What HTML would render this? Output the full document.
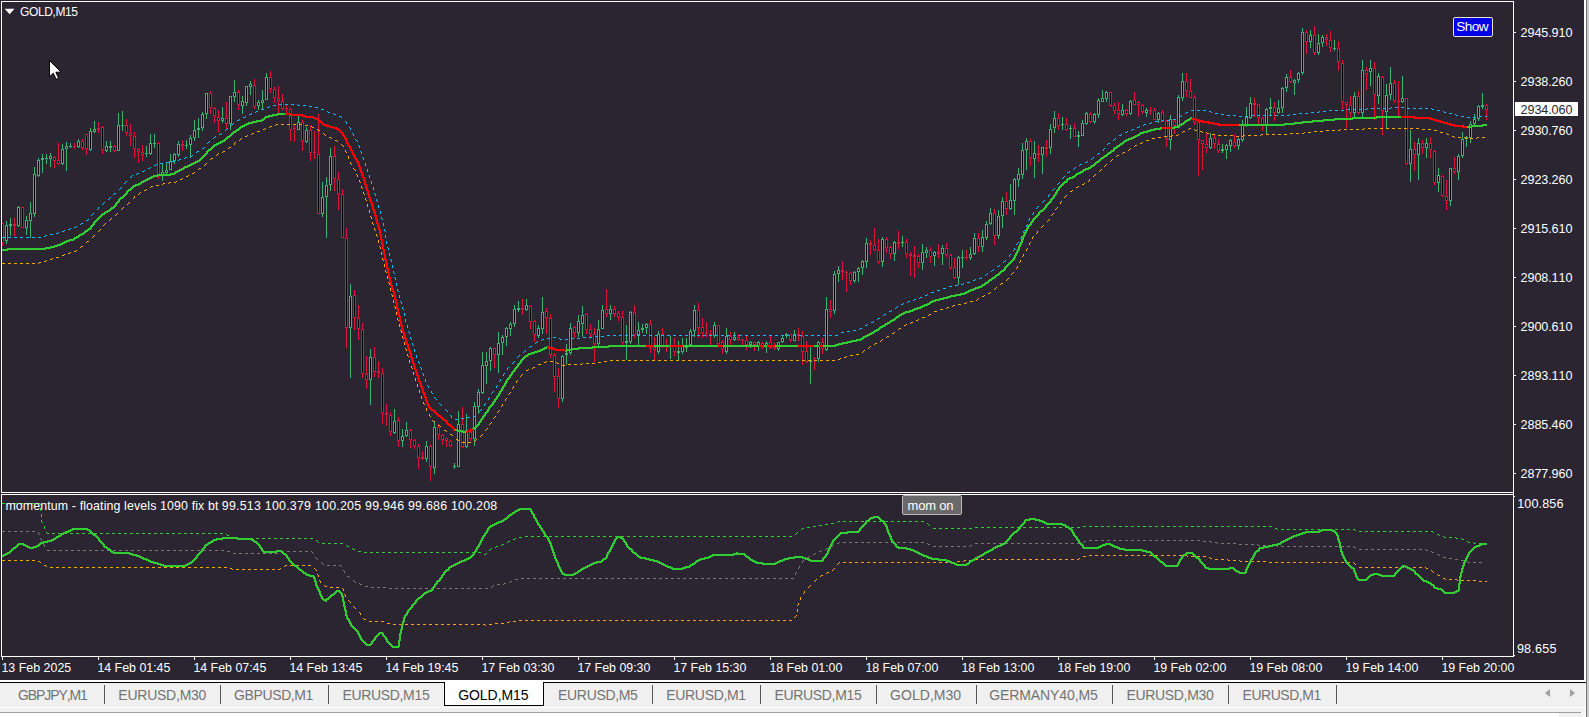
<!DOCTYPE html><html><head><meta charset="utf-8"><title>GOLD,M15</title><style>
html,body{margin:0;padding:0}
body{width:1589px;height:717px;overflow:hidden;background:#2b2531;position:relative;font-family:"Liberation Sans",sans-serif;color:#fff}
.t{position:absolute;white-space:pre;line-height:1;font-kerning:none}
.ax{font-size:12.6px}
.tm{font-size:12.4px;top:662px}
.tab{font-size:14px;color:#737373;top:688px}
.sep{position:absolute;top:685px;width:1px;height:19px;background:#555}

</style></head><body>
<svg width="1589" height="717" viewBox="0 0 1589 717" style="position:absolute;left:0;top:0">
<g shape-rendering="crispEdges">
<path fill="#3cb371" d="M6 221h1v23h-1zM5 225h3v16h-3zM10 218h1v18h-1zM9 224h3v2h-3zM18 206h1v21h-1zM17 207h3v19h-3zM26 216h1v19h-1zM25 220h3v8h-3zM30 202h1v36h-1zM29 213h3v8h-3zM34 167h1v50h-1zM33 174h3v40h-3zM38 158h1v19h-1zM37 160h3v16h-3zM42 154h1v19h-1zM41 158h3v2h-3zM46 154h1v10h-1zM45 158h3v1h-3zM50 153h1v14h-1zM49 156h3v3h-3zM62 144h1v21h-1zM61 149h3v15h-3zM66 142h1v29h-1zM65 146h3v3h-3zM70 143h1v5h-1zM69 146h3v1h-3zM78 139h1v9h-1zM77 141h3v6h-3zM90 128h1v23h-1zM89 131h3v19h-3zM94 121h1v12h-1zM93 129h3v3h-3zM106 141h1v11h-1zM105 146h3v5h-3zM110 141h1v11h-1zM109 146h3v2h-3zM118 113h1v38h-1zM117 125h3v26h-3zM122 111h1v20h-1zM121 125h3v1h-3zM146 146h1v11h-1zM145 153h3v1h-3zM150 134h1v21h-1zM149 143h3v11h-3zM154 134h1v14h-1zM153 143h3v1h-3zM162 164h1v17h-1zM161 172h3v3h-3zM166 163h1v13h-1zM165 170h3v3h-3zM170 154h1v16h-1zM169 161h3v9h-3zM174 153h1v11h-1zM173 154h3v7h-3zM178 141h1v16h-1zM177 144h3v11h-3zM186 140h1v9h-1zM185 145h3v1h-3zM190 135h1v23h-1zM189 138h3v7h-3zM194 120h1v21h-1zM193 130h3v8h-3zM198 118h1v20h-1zM197 128h3v2h-3zM202 112h1v19h-1zM201 114h3v14h-3zM206 93h1v26h-1zM205 93h3v21h-3zM222 107h1v16h-1zM221 118h3v3h-3zM230 96h1v34h-1zM229 96h3v28h-3zM234 80h1v22h-1zM233 92h3v5h-3zM242 96h1v18h-1zM241 101h3v5h-3zM246 86h1v20h-1zM245 86h3v17h-3zM250 81h1v14h-1zM249 84h3v3h-3zM258 100h1v10h-1zM257 102h3v4h-3zM262 90h1v19h-1zM261 100h3v3h-3zM266 73h1v27h-1zM265 77h3v23h-3zM298 116h1v14h-1zM297 122h3v8h-3zM306 127h1v16h-1zM305 130h3v12h-3zM322 182h1v35h-1zM321 197h3v17h-3zM326 177h1v61h-1zM325 185h3v12h-3zM330 148h1v43h-1zM329 156h3v29h-3zM350 284h1v94h-1zM349 296h3v32h-3zM370 349h1v56h-1zM369 357h3v23h-3zM394 409h1v25h-1zM393 421h3v12h-3zM402 429h1v18h-1zM401 436h3v5h-3zM406 422h1v15h-1zM405 430h3v6h-3zM426 441h1v21h-1zM425 446h3v13h-3zM434 421h1v53h-1zM433 427h3v41h-3zM454 463h1v6h-1zM453 466h3v1h-3zM458 411h1v56h-1zM457 424h3v43h-3zM466 414h1v34h-1zM465 430h3v17h-3zM474 402h1v44h-1zM473 406h3v33h-3zM478 389h1v25h-1zM477 392h3v15h-3zM482 352h1v42h-1zM481 365h3v28h-3zM486 352h1v32h-1zM485 361h3v5h-3zM490 347h1v24h-1zM489 348h3v13h-3zM498 332h1v41h-1zM497 343h3v12h-3zM502 335h1v20h-1zM501 337h3v6h-3zM506 327h1v19h-1zM505 328h3v9h-3zM510 322h1v14h-1zM509 324h3v5h-3zM514 305h1v22h-1zM513 309h3v15h-3zM518 301h1v11h-1zM517 308h3v2h-3zM526 299h1v12h-1zM525 305h3v5h-3zM538 325h1v13h-1zM537 328h3v8h-3zM542 297h1v37h-1zM541 312h3v17h-3zM562 355h1v47h-1zM561 356h3v43h-3zM566 344h1v21h-1zM565 353h3v2h-3zM570 323h1v32h-1zM569 328h3v25h-3zM578 315h1v22h-1zM577 321h3v12h-3zM582 306h1v31h-1zM581 315h3v9h-3zM598 320h1v26h-1zM597 329h3v15h-3zM602 305h1v24h-1zM601 310h3v19h-3zM610 305h1v15h-1zM609 309h3v5h-3zM626 325h1v35h-1zM625 341h3v2h-3zM630 311h1v33h-1zM629 312h3v30h-3zM638 322h1v23h-1zM637 330h3v5h-3zM642 324h1v9h-1zM641 328h3v2h-3zM646 323h1v11h-1zM645 324h3v4h-3zM658 331h1v23h-1zM657 334h3v18h-3zM670 336h1v23h-1zM669 346h3v1h-3zM678 341h1v19h-1zM677 351h3v2h-3zM682 338h1v16h-1zM681 346h3v6h-3zM686 338h1v14h-1zM685 345h3v3h-3zM690 329h1v16h-1zM689 331h3v14h-3zM694 305h1v32h-1zM693 310h3v21h-3zM714 322h1v16h-1zM713 325h3v11h-3zM726 328h1v26h-1zM725 336h3v16h-3zM734 332h1v9h-1zM733 337h3v3h-3zM750 341h1v7h-1zM749 342h3v3h-3zM758 341h1v10h-1zM757 342h3v4h-3zM766 341h1v12h-1zM765 343h3v3h-3zM778 342h1v9h-1zM777 342h3v7h-3zM782 336h1v7h-1zM781 338h3v4h-3zM786 333h1v5h-1zM785 334h3v2h-3zM794 330h1v11h-1zM793 334h3v7h-3zM810 347h1v37h-1zM809 360h3v2h-3zM818 341h1v21h-1zM817 342h3v17h-3zM826 297h1v54h-1zM825 309h3v41h-3zM834 271h1v43h-1zM833 274h3v37h-3zM838 266h1v16h-1zM837 270h3v4h-3zM854 271h1v12h-1zM853 272h3v9h-3zM858 267h1v15h-1zM857 268h3v4h-3zM862 260h1v15h-1zM861 261h3v7h-3zM866 238h1v30h-1zM865 243h3v19h-3zM882 237h1v30h-1zM881 239h3v23h-3zM894 241h1v20h-1zM893 242h3v12h-3zM902 236h1v11h-1zM901 242h3v1h-3zM922 244h1v26h-1zM921 252h3v11h-3zM926 247h1v11h-1zM925 250h3v3h-3zM934 251h1v15h-1zM933 252h3v4h-3zM942 245h1v20h-1zM941 248h3v6h-3zM958 256h1v29h-1zM957 257h3v21h-3zM962 250h1v18h-1zM961 257h3v1h-3zM970 247h1v13h-1zM969 254h3v4h-3zM974 233h1v22h-1zM973 238h3v16h-3zM982 230h1v22h-1zM981 237h3v10h-3zM986 221h1v19h-1zM985 224h3v14h-3zM990 208h1v17h-1zM989 213h3v11h-3zM998 210h1v29h-1zM997 216h3v20h-3zM1002 197h1v31h-1zM1001 201h3v15h-3zM1010 184h1v26h-1zM1009 200h3v9h-3zM1014 178h1v37h-1zM1013 179h3v22h-3zM1018 168h1v19h-1zM1017 174h3v6h-3zM1022 143h1v36h-1zM1021 150h3v25h-3zM1026 138h1v32h-1zM1025 141h3v9h-3zM1034 141h1v37h-1zM1033 153h3v6h-3zM1042 147h1v27h-1zM1041 147h3v8h-3zM1050 124h1v30h-1zM1049 129h3v19h-3zM1054 111h1v22h-1zM1053 118h3v10h-3zM1062 117h1v13h-1zM1061 124h3v1h-3zM1070 125h1v14h-1zM1069 128h3v1h-3zM1078 131h1v16h-1zM1077 135h3v2h-3zM1082 120h1v16h-1zM1081 123h3v13h-3zM1086 112h1v13h-1zM1085 113h3v11h-3zM1094 113h1v11h-1zM1093 114h3v8h-3zM1098 98h1v20h-1zM1097 100h3v15h-3zM1102 90h1v12h-1zM1101 98h3v4h-3zM1106 91h1v11h-1zM1105 92h3v7h-3zM1122 104h1v12h-1zM1121 110h3v5h-3zM1130 100h1v15h-1zM1129 101h3v13h-3zM1146 108h1v9h-1zM1145 110h3v3h-3zM1158 112h1v11h-1zM1157 113h3v7h-3zM1170 115h1v35h-1zM1169 119h3v21h-3zM1178 95h1v33h-1zM1177 97h3v31h-3zM1182 73h1v28h-1zM1181 81h3v17h-3zM1210 133h1v16h-1zM1209 138h3v10h-3zM1222 144h1v9h-1zM1221 149h3v2h-3zM1226 144h1v15h-1zM1225 145h3v5h-3zM1230 139h1v13h-1zM1229 140h3v6h-3zM1238 138h1v12h-1zM1237 139h3v7h-3zM1242 120h1v22h-1zM1241 125h3v15h-3zM1246 107h1v20h-1zM1245 117h3v8h-3zM1250 97h1v22h-1zM1249 103h3v15h-3zM1266 108h1v26h-1zM1265 109h3v16h-3zM1270 98h1v17h-1zM1269 107h3v2h-3zM1278 100h1v14h-1zM1277 108h3v5h-3zM1282 87h1v26h-1zM1281 88h3v20h-3zM1286 74h1v18h-1zM1285 77h3v11h-3zM1294 79h1v16h-1zM1293 80h3v3h-3zM1298 72h1v11h-1zM1297 73h3v7h-3zM1302 28h1v47h-1zM1301 32h3v41h-3zM1310 30h1v18h-1zM1309 35h3v7h-3zM1318 34h1v21h-1zM1317 43h3v10h-3zM1322 35h1v12h-1zM1321 37h3v6h-3zM1334 40h1v11h-1zM1333 48h3v1h-3zM1354 92h1v25h-1zM1353 96h3v17h-3zM1362 60h1v58h-1zM1361 70h3v43h-3zM1370 60h1v26h-1zM1369 68h3v4h-3zM1378 73h1v31h-1zM1377 76h3v20h-3zM1386 84h1v45h-1zM1385 95h3v17h-3zM1390 67h1v33h-1zM1389 83h3v12h-3zM1402 76h1v27h-1zM1401 98h3v4h-3zM1410 130h1v52h-1zM1409 149h3v15h-3zM1418 138h1v42h-1zM1417 143h3v12h-3zM1426 138h1v20h-1zM1425 143h3v5h-3zM1438 168h1v24h-1zM1437 175h3v8h-3zM1450 168h1v38h-1zM1449 168h3v33h-3zM1458 154h1v26h-1zM1457 156h3v16h-3zM1462 132h1v26h-1zM1461 139h3v17h-3zM1466 136h1v11h-1zM1465 137h3v2h-3zM1470 121h1v22h-1zM1469 124h3v14h-3zM1474 114h1v12h-1zM1473 119h3v5h-3zM1478 105h1v16h-1zM1477 106h3v13h-3zM1482 93h1v16h-1zM1481 105h3v2h-3z"/>
<path fill="#dc143c" d="M2 223h1v23h-1zM1 223h3v20h-3zM14 218h1v18h-1zM13 224h3v2h-3zM22 207h1v21h-1zM21 207h3v21h-3zM54 156h1v12h-1zM53 157h3v4h-3zM58 143h1v22h-1zM57 160h3v4h-3zM74 143h1v6h-1zM73 146h3v1h-3zM82 139h1v11h-1zM81 141h3v7h-3zM86 134h1v21h-1zM85 134h3v15h-3zM98 122h1v11h-1zM97 128h3v2h-3zM102 126h1v28h-1zM101 127h3v23h-3zM114 145h1v7h-1zM113 146h3v5h-3zM126 119h1v17h-1zM125 125h3v8h-3zM130 124h1v22h-1zM129 133h3v3h-3zM134 132h1v26h-1zM133 136h3v13h-3zM138 148h1v15h-1zM137 149h3v3h-3zM142 145h1v16h-1zM141 152h3v3h-3zM158 142h1v37h-1zM157 143h3v32h-3zM182 140h1v11h-1zM181 144h3v2h-3zM210 91h1v23h-1zM209 93h3v15h-3zM214 107h1v16h-1zM213 108h3v8h-3zM218 110h1v22h-1zM217 117h3v4h-3zM226 102h1v28h-1zM225 118h3v6h-3zM238 90h1v20h-1zM237 92h3v13h-3zM254 79h1v30h-1zM253 85h3v22h-3zM270 71h1v22h-1zM269 77h3v12h-3zM274 87h1v16h-1zM273 89h3v9h-3zM278 86h1v27h-1zM277 98h3v3h-3zM282 94h1v16h-1zM281 101h3v8h-3zM286 105h1v9h-1zM285 108h3v1h-3zM290 108h1v33h-1zM289 109h3v21h-3zM294 126h1v16h-1zM293 128h3v1h-3zM302 120h1v31h-1zM301 122h3v19h-3zM310 125h1v36h-1zM309 130h3v23h-3zM314 131h1v28h-1zM313 152h3v1h-3zM318 114h1v100h-1zM317 154h3v60h-3zM334 146h1v45h-1zM333 156h3v23h-3zM338 172h1v38h-1zM337 179h3v15h-3zM342 189h1v49h-1zM341 194h3v44h-3zM346 228h1v120h-1zM345 238h3v90h-3zM354 290h1v40h-1zM353 295h3v23h-3zM358 305h1v35h-1zM357 318h3v11h-3zM362 323h1v55h-1zM361 329h3v45h-3zM366 356h1v33h-1zM365 374h3v6h-3zM374 347h1v30h-1zM373 357h3v15h-3zM378 361h1v17h-1zM377 371h3v2h-3zM382 368h1v56h-1zM381 373h3v40h-3zM386 404h1v22h-1zM385 413h3v2h-3zM390 412h1v24h-1zM389 415h3v17h-3zM398 417h1v30h-1zM397 420h3v21h-3zM410 429h1v19h-1zM409 430h3v10h-3zM414 439h1v10h-1zM413 440h3v6h-3zM418 444h1v25h-1zM417 446h3v12h-3zM422 451h1v9h-1zM421 457h3v2h-3zM430 444h1v37h-1zM429 446h3v21h-3zM438 424h1v16h-1zM437 427h3v8h-3zM442 434h1v11h-1zM441 435h3v5h-3zM446 438h1v9h-1zM445 438h3v3h-3zM450 440h1v7h-1zM449 441h3v5h-3zM462 407h1v41h-1zM461 424h3v23h-3zM470 428h1v13h-1zM469 432h3v7h-3zM494 348h1v20h-1zM493 348h3v7h-3zM522 299h1v16h-1zM521 308h3v2h-3zM530 305h1v24h-1zM529 306h3v16h-3zM534 320h1v22h-1zM533 321h3v14h-3zM546 308h1v26h-1zM545 311h3v7h-3zM550 314h1v44h-1zM549 318h3v37h-3zM554 353h1v39h-1zM553 355h3v22h-3zM558 368h1v40h-1zM557 376h3v23h-3zM574 326h1v12h-1zM573 327h3v6h-3zM586 313h1v21h-1zM585 314h3v16h-3zM590 324h1v13h-1zM589 329h3v5h-3zM594 328h1v34h-1zM593 334h3v10h-3zM606 289h1v28h-1zM605 309h3v5h-3zM614 306h1v11h-1zM613 309h3v5h-3zM618 311h1v10h-1zM617 313h3v4h-3zM622 311h1v34h-1zM621 317h3v26h-3zM634 305h1v33h-1zM633 312h3v23h-3zM650 320h1v33h-1zM649 324h3v24h-3zM654 337h1v23h-1zM653 347h3v3h-3zM662 328h1v20h-1zM661 334h3v12h-3zM666 339h1v13h-1zM665 345h3v2h-3zM674 338h1v18h-1zM673 346h3v6h-3zM698 303h1v35h-1zM697 310h3v18h-3zM702 318h1v20h-1zM701 327h3v6h-3zM706 322h1v15h-1zM705 333h3v1h-3zM710 330h1v15h-1zM709 334h3v1h-3zM718 325h1v20h-1zM717 325h3v19h-3zM722 340h1v14h-1zM721 342h3v7h-3zM730 332h1v13h-1zM729 336h3v4h-3zM738 334h1v7h-1zM737 337h3v3h-3zM742 339h1v6h-1zM741 339h3v1h-3zM746 336h1v14h-1zM745 340h3v5h-3zM754 342h1v9h-1zM753 342h3v3h-3zM762 342h1v7h-1zM761 343h3v5h-3zM770 335h1v14h-1zM769 342h3v6h-3zM774 343h1v7h-1zM773 346h3v2h-3zM790 334h1v8h-1zM789 334h3v6h-3zM798 328h1v13h-1zM797 334h3v2h-3zM802 331h1v34h-1zM801 336h3v16h-3zM806 341h1v22h-1zM805 351h3v11h-3zM814 357h1v13h-1zM813 358h3v1h-3zM822 338h1v16h-1zM821 342h3v7h-3zM830 300h1v18h-1zM829 309h3v3h-3zM842 261h1v19h-1zM841 270h3v2h-3zM846 271h1v21h-1zM845 272h3v1h-3zM850 272h1v13h-1zM849 273h3v8h-3zM870 240h1v15h-1zM869 243h3v2h-3zM874 228h1v23h-1zM873 245h3v5h-3zM878 239h1v25h-1zM877 250h3v12h-3zM886 237h1v16h-1zM885 239h3v9h-3zM890 246h1v13h-1zM889 247h3v7h-3zM898 231h1v18h-1zM897 242h3v2h-3zM906 239h1v19h-1zM905 242h3v12h-3zM910 252h1v24h-1zM909 254h3v2h-3zM914 246h1v32h-1zM913 255h3v2h-3zM918 254h1v14h-1zM917 256h3v7h-3zM930 247h1v16h-1zM929 250h3v7h-3zM938 244h1v14h-1zM937 252h3v2h-3zM946 243h1v14h-1zM945 248h3v7h-3zM950 254h1v16h-1zM949 255h3v13h-3zM954 258h1v21h-1zM953 267h3v11h-3zM966 250h1v10h-1zM965 257h3v1h-3zM978 233h1v19h-1zM977 238h3v9h-3zM994 209h1v36h-1zM993 213h3v23h-3zM1006 192h1v23h-1zM1005 201h3v8h-3zM1030 139h1v27h-1zM1029 141h3v17h-3zM1038 145h1v17h-1zM1037 153h3v2h-3zM1046 140h1v17h-1zM1045 147h3v2h-3zM1058 113h1v17h-1zM1057 118h3v8h-3zM1066 118h1v13h-1zM1065 124h3v6h-3zM1074 123h1v14h-1zM1073 128h3v9h-3zM1090 112h1v11h-1zM1089 114h3v8h-3zM1110 92h1v15h-1zM1109 92h3v14h-3zM1114 103h1v11h-1zM1113 105h3v6h-3zM1118 102h1v18h-1zM1117 110h3v4h-3zM1126 109h1v7h-1zM1125 110h3v4h-3zM1134 92h1v13h-1zM1133 100h3v5h-3zM1138 101h1v16h-1zM1137 102h3v3h-3zM1142 104h1v10h-1zM1141 105h3v7h-3zM1150 107h1v8h-1zM1149 110h3v1h-3zM1154 108h1v12h-1zM1153 110h3v10h-3zM1162 110h1v12h-1zM1161 112h3v9h-3zM1166 120h1v27h-1zM1165 121h3v18h-3zM1174 119h1v15h-1zM1173 121h3v5h-3zM1186 73h1v24h-1zM1185 81h3v10h-3zM1190 79h1v19h-1zM1189 91h3v7h-3zM1194 95h1v30h-1zM1193 97h3v25h-3zM1198 122h1v54h-1zM1197 122h3v18h-3zM1202 140h1v30h-1zM1201 140h3v4h-3zM1206 133h1v20h-1zM1205 144h3v4h-3zM1214 135h1v14h-1zM1213 138h3v6h-3zM1218 139h1v14h-1zM1217 144h3v7h-3zM1234 134h1v14h-1zM1233 142h3v4h-3zM1254 98h1v19h-1zM1253 103h3v2h-3zM1258 104h1v20h-1zM1257 104h3v14h-3zM1262 117h1v14h-1zM1261 118h3v7h-3zM1274 102h1v19h-1zM1273 107h3v6h-3zM1290 70h1v13h-1zM1289 77h3v5h-3zM1306 30h1v24h-1zM1305 32h3v10h-3zM1314 26h1v29h-1zM1313 35h3v18h-3zM1326 34h1v12h-1zM1325 37h3v3h-3zM1330 31h1v21h-1zM1329 40h3v8h-3zM1338 41h1v30h-1zM1337 48h3v14h-3zM1342 60h1v49h-1zM1341 63h3v39h-3zM1346 102h1v26h-1zM1345 102h3v3h-3zM1350 96h1v22h-1zM1349 105h3v8h-3zM1358 91h1v23h-1zM1357 96h3v17h-3zM1366 67h1v23h-1zM1365 70h3v4h-3zM1374 62h1v58h-1zM1373 68h3v27h-3zM1382 76h1v59h-1zM1381 77h3v34h-3zM1394 80h1v23h-1zM1393 83h3v18h-3zM1398 81h1v35h-1zM1397 101h3v1h-3zM1406 98h1v67h-1zM1405 98h3v66h-3zM1414 142h1v29h-1zM1413 149h3v6h-3zM1422 140h1v14h-1zM1421 143h3v5h-3zM1430 137h1v21h-1zM1429 143h3v7h-3zM1434 150h1v35h-1zM1433 151h3v32h-3zM1442 175h1v22h-1zM1441 176h3v20h-3zM1446 180h1v30h-1zM1445 196h3v5h-3zM1454 157h1v17h-1zM1453 168h3v4h-3zM1486 104h1v16h-1zM1485 105h3v5h-3z"/>
<path fill="#000" d="M2 224h1v18h-1zM6 226h1v14h-1zM18 208h1v17h-1zM22 208h1v19h-1zM26 221h1v6h-1zM30 214h1v6h-1zM34 175h1v38h-1zM38 161h1v14h-1zM50 157h1v1h-1zM54 158h1v2h-1zM58 161h1v2h-1zM62 150h1v13h-1zM66 147h1v1h-1zM78 142h1v4h-1zM82 142h1v5h-1zM86 135h1v13h-1zM90 132h1v17h-1zM94 130h1v1h-1zM102 128h1v21h-1zM106 147h1v3h-1zM114 147h1v3h-1zM118 126h1v24h-1zM126 126h1v6h-1zM130 134h1v1h-1zM134 137h1v11h-1zM138 150h1v1h-1zM142 153h1v1h-1zM150 144h1v9h-1zM158 144h1v30h-1zM162 173h1v1h-1zM166 171h1v1h-1zM170 162h1v7h-1zM174 155h1v5h-1zM178 145h1v9h-1zM190 139h1v5h-1zM194 131h1v6h-1zM202 115h1v12h-1zM206 94h1v19h-1zM210 94h1v13h-1zM214 109h1v6h-1zM218 118h1v2h-1zM222 119h1v1h-1zM226 119h1v4h-1zM230 97h1v26h-1zM234 93h1v3h-1zM238 93h1v11h-1zM242 102h1v3h-1zM246 87h1v15h-1zM250 85h1v1h-1zM254 86h1v20h-1zM258 103h1v2h-1zM262 101h1v1h-1zM266 78h1v21h-1zM270 78h1v10h-1zM274 90h1v7h-1zM278 99h1v1h-1zM282 102h1v6h-1zM290 110h1v19h-1zM298 123h1v6h-1zM302 123h1v17h-1zM306 131h1v10h-1zM310 131h1v21h-1zM318 155h1v58h-1zM322 198h1v15h-1zM326 186h1v10h-1zM330 157h1v27h-1zM334 157h1v21h-1zM338 180h1v13h-1zM342 195h1v42h-1zM346 239h1v88h-1zM350 297h1v30h-1zM354 296h1v21h-1zM358 319h1v9h-1zM362 330h1v43h-1zM366 375h1v4h-1zM370 358h1v21h-1zM374 358h1v13h-1zM382 374h1v38h-1zM390 416h1v15h-1zM394 422h1v10h-1zM398 421h1v19h-1zM402 437h1v3h-1zM406 431h1v4h-1zM410 431h1v8h-1zM414 441h1v4h-1zM418 447h1v10h-1zM426 447h1v11h-1zM430 447h1v19h-1zM434 428h1v39h-1zM438 428h1v6h-1zM442 436h1v3h-1zM446 439h1v1h-1zM450 442h1v3h-1zM458 425h1v41h-1zM462 425h1v21h-1zM466 431h1v15h-1zM470 433h1v5h-1zM474 407h1v31h-1zM478 393h1v13h-1zM482 366h1v26h-1zM486 362h1v3h-1zM490 349h1v11h-1zM494 349h1v5h-1zM498 344h1v10h-1zM502 338h1v4h-1zM506 329h1v7h-1zM510 325h1v3h-1zM514 310h1v13h-1zM526 306h1v3h-1zM530 307h1v14h-1zM534 322h1v12h-1zM538 329h1v6h-1zM542 313h1v15h-1zM546 312h1v5h-1zM550 319h1v35h-1zM554 356h1v20h-1zM558 377h1v21h-1zM562 357h1v41h-1zM570 329h1v23h-1zM574 328h1v4h-1zM578 322h1v10h-1zM582 316h1v7h-1zM586 315h1v14h-1zM590 330h1v3h-1zM594 335h1v8h-1zM598 330h1v13h-1zM602 311h1v17h-1zM606 310h1v3h-1zM610 310h1v3h-1zM614 310h1v3h-1zM618 314h1v2h-1zM622 318h1v24h-1zM630 313h1v28h-1zM634 313h1v21h-1zM638 331h1v3h-1zM646 325h1v2h-1zM650 325h1v22h-1zM654 348h1v1h-1zM658 335h1v16h-1zM662 335h1v10h-1zM674 347h1v4h-1zM682 347h1v4h-1zM686 346h1v1h-1zM690 332h1v12h-1zM694 311h1v19h-1zM698 311h1v16h-1zM702 328h1v4h-1zM714 326h1v9h-1zM718 326h1v17h-1zM722 343h1v5h-1zM726 337h1v14h-1zM730 337h1v2h-1zM734 338h1v1h-1zM738 338h1v1h-1zM746 341h1v3h-1zM750 343h1v1h-1zM754 343h1v1h-1zM758 343h1v2h-1zM762 344h1v3h-1zM766 344h1v1h-1zM770 343h1v4h-1zM778 343h1v5h-1zM782 339h1v2h-1zM790 335h1v4h-1zM794 335h1v5h-1zM802 337h1v14h-1zM806 352h1v9h-1zM818 343h1v15h-1zM822 343h1v5h-1zM826 310h1v39h-1zM830 310h1v1h-1zM834 275h1v35h-1zM838 271h1v2h-1zM850 274h1v6h-1zM854 273h1v7h-1zM858 269h1v2h-1zM862 262h1v5h-1zM866 244h1v17h-1zM874 246h1v3h-1zM878 251h1v10h-1zM882 240h1v21h-1zM886 240h1v7h-1zM890 248h1v5h-1zM894 243h1v10h-1zM906 243h1v10h-1zM918 257h1v5h-1zM922 253h1v9h-1zM926 251h1v1h-1zM930 251h1v5h-1zM934 253h1v2h-1zM942 249h1v4h-1zM946 249h1v5h-1zM950 256h1v11h-1zM954 268h1v9h-1zM958 258h1v19h-1zM970 255h1v2h-1zM974 239h1v14h-1zM978 239h1v7h-1zM982 238h1v8h-1zM986 225h1v12h-1zM990 214h1v9h-1zM994 214h1v21h-1zM998 217h1v18h-1zM1002 202h1v13h-1zM1006 202h1v6h-1zM1010 201h1v7h-1zM1014 180h1v20h-1zM1018 175h1v4h-1zM1022 151h1v23h-1zM1026 142h1v7h-1zM1030 142h1v15h-1zM1034 154h1v4h-1zM1042 148h1v6h-1zM1050 130h1v17h-1zM1054 119h1v8h-1zM1058 119h1v6h-1zM1066 125h1v4h-1zM1074 129h1v7h-1zM1082 124h1v11h-1zM1086 114h1v9h-1zM1090 115h1v6h-1zM1094 115h1v6h-1zM1098 101h1v13h-1zM1102 99h1v2h-1zM1106 93h1v5h-1zM1110 93h1v12h-1zM1114 106h1v4h-1zM1118 111h1v2h-1zM1122 111h1v3h-1zM1126 111h1v2h-1zM1130 102h1v11h-1zM1134 101h1v3h-1zM1138 103h1v1h-1zM1142 106h1v5h-1zM1146 111h1v1h-1zM1154 111h1v8h-1zM1158 114h1v5h-1zM1162 113h1v7h-1zM1166 122h1v16h-1zM1170 120h1v19h-1zM1174 122h1v3h-1zM1178 98h1v29h-1zM1182 82h1v15h-1zM1186 82h1v8h-1zM1190 92h1v5h-1zM1194 98h1v23h-1zM1198 123h1v16h-1zM1202 141h1v2h-1zM1206 145h1v2h-1zM1210 139h1v8h-1zM1214 139h1v4h-1zM1218 145h1v5h-1zM1226 146h1v3h-1zM1230 141h1v4h-1zM1234 143h1v2h-1zM1238 140h1v5h-1zM1242 126h1v13h-1zM1246 118h1v6h-1zM1250 104h1v13h-1zM1258 105h1v12h-1zM1262 119h1v5h-1zM1266 110h1v14h-1zM1274 108h1v4h-1zM1278 109h1v3h-1zM1282 89h1v18h-1zM1286 78h1v9h-1zM1290 78h1v3h-1zM1294 81h1v1h-1zM1298 74h1v5h-1zM1302 33h1v39h-1zM1306 33h1v8h-1zM1310 36h1v5h-1zM1314 36h1v16h-1zM1318 44h1v8h-1zM1322 38h1v4h-1zM1326 38h1v1h-1zM1330 41h1v6h-1zM1338 49h1v12h-1zM1342 64h1v37h-1zM1346 103h1v1h-1zM1350 106h1v6h-1zM1354 97h1v15h-1zM1358 97h1v15h-1zM1362 71h1v41h-1zM1366 71h1v2h-1zM1370 69h1v2h-1zM1374 69h1v25h-1zM1378 77h1v18h-1zM1382 78h1v32h-1zM1386 96h1v15h-1zM1390 84h1v10h-1zM1394 84h1v16h-1zM1402 99h1v2h-1zM1406 99h1v64h-1zM1410 150h1v13h-1zM1414 150h1v4h-1zM1418 144h1v10h-1zM1422 144h1v3h-1zM1426 144h1v3h-1zM1430 144h1v5h-1zM1434 152h1v30h-1zM1438 176h1v6h-1zM1442 177h1v18h-1zM1446 197h1v3h-1zM1450 169h1v31h-1zM1454 169h1v2h-1zM1458 157h1v14h-1zM1462 140h1v15h-1zM1470 125h1v12h-1zM1474 120h1v3h-1zM1478 107h1v11h-1zM1486 106h1v3h-1z"/>
</g>
<g shape-rendering="crispEdges">
<path fill="#00bfff" d="M279 104h3v1h-3zM285 104h3v1h-3zM291 104h3v1h-3zM297 104h1v1h-1zM273 105h3v1h-3zM298 105h2v1h-2zM303 105h3v1h-3zM269 106h1v1h-1zM309 106h3v1h-3zM267 107h2v1h-2zM315 107h3v1h-3zM1391 107h1v1h-1zM1395 107h3v1h-3zM1401 107h3v1h-3zM1367 108h1v1h-1zM1371 108h3v1h-3zM1377 108h3v1h-3zM1383 108h3v1h-3zM1389 108h2v1h-2zM1407 108h3v1h-3zM1413 108h3v1h-3zM1419 108h3v1h-3zM1425 108h3v1h-3zM1431 108h1v1h-1zM261 109h3v1h-3zM321 109h3v1h-3zM1347 109h3v1h-3zM1353 109h3v1h-3zM1359 109h3v1h-3zM1365 109h2v1h-2zM1432 109h2v1h-2zM1191 110h3v1h-3zM1197 110h3v1h-3zM1203 110h3v1h-3zM1329 110h3v1h-3zM1335 110h3v1h-3zM1341 110h3v1h-3zM1437 110h3v1h-3zM256 111h2v1h-2zM327 111h1v1h-1zM1209 111h2v1h-2zM1319 111h1v1h-1zM1323 111h3v1h-3zM1443 111h1v1h-1zM255 112h1v1h-1zM328 112h2v1h-2zM1186 112h2v1h-2zM1211 112h1v1h-1zM1311 112h3v1h-3zM1317 112h2v1h-2zM1444 112h2v1h-2zM251 113h1v1h-1zM333 113h1v1h-1zM1185 113h1v1h-1zM1215 113h3v1h-3zM1299 113h3v1h-3zM1305 113h3v1h-3zM1449 113h3v1h-3zM249 114h2v1h-2zM334 114h2v1h-2zM1221 114h3v1h-3zM1289 114h1v1h-1zM1293 114h3v1h-3zM1455 114h1v1h-1zM1181 115h1v1h-1zM1227 115h3v1h-3zM1233 115h3v1h-3zM1251 115h3v1h-3zM1257 115h3v1h-3zM1263 115h3v1h-3zM1269 115h3v1h-3zM1275 115h3v1h-3zM1281 115h3v1h-3zM1287 115h2v1h-2zM1456 115h2v1h-2zM245 116h1v1h-1zM339 116h2v1h-2zM1179 116h2v1h-2zM1239 116h3v1h-3zM1245 116h3v1h-3zM1461 116h3v1h-3zM1479 116h3v1h-3zM1485 116h2v1h-2zM243 117h2v1h-2zM341 117h1v1h-1zM1467 117h3v1h-3zM1473 117h3v1h-3zM239 119h1v1h-1zM1173 119h3v1h-3zM237 120h2v1h-2zM1162 120h2v1h-2zM1167 120h3v1h-3zM345 121h1v1h-1zM1155 121h3v1h-3zM1161 121h1v1h-1zM346 122h1v2h-1zM1151 122h1v1h-1zM233 123h1v1h-1zM1149 123h2v1h-2zM232 124h1v1h-1zM1144 124h2v1h-2zM231 125h1v1h-1zM1143 125h1v1h-1zM1139 126h1v1h-1zM349 127h1v1h-1zM1137 127h2v1h-2zM227 128h1v1h-1zM350 128h1v2h-1zM226 129h1v1h-1zM1132 129h2v1h-2zM225 130h1v1h-1zM1131 130h1v1h-1zM1127 131h1v1h-1zM1125 132h2v1h-2zM221 133h1v1h-1zM352 133h1v1h-1zM219 134h2v1h-2zM353 134h1v2h-1zM1121 134h1v1h-1zM1119 135h2v1h-2zM215 136h1v1h-1zM214 137h1v1h-1zM213 138h1v1h-1zM1115 138h1v1h-1zM355 139h1v1h-1zM1114 139h1v1h-1zM356 140h1v1h-1zM1113 140h1v1h-1zM209 141h1v1h-1zM357 141h1v1h-1zM208 142h1v1h-1zM207 143h1v1h-1zM1108 143h2v1h-2zM1107 144h1v1h-1zM358 145h1v1h-1zM359 146h1v2h-1zM204 147h1v1h-1zM202 148h2v1h-2zM1104 148h1v1h-1zM1103 149h1v2h-1zM197 151h2v1h-2zM360 151h1v1h-1zM196 152h1v1h-1zM361 152h1v2h-1zM1098 153h2v1h-2zM1097 154h1v1h-1zM192 155h1v1h-1zM190 156h2v1h-2zM185 157h2v1h-2zM362 157h1v1h-1zM1093 157h1v1h-1zM184 158h1v1h-1zM363 158h1v2h-1zM1092 158h1v1h-1zM179 159h2v1h-2zM1091 159h1v1h-1zM178 160h1v1h-1zM172 161h3v1h-3zM1087 161h1v1h-1zM166 162h3v1h-3zM1085 162h2v1h-2zM160 163h3v1h-3zM365 163h1v3h-1zM156 164h1v1h-1zM1080 164h2v1h-2zM154 165h2v1h-2zM1079 165h1v1h-1zM150 167h1v1h-1zM1075 167h1v1h-1zM148 168h2v1h-2zM1074 168h1v1h-1zM367 169h1v3h-1zM1073 169h1v1h-1zM144 170h1v1h-1zM142 171h2v1h-2zM1069 171h1v1h-1zM1067 172h2v1h-2zM137 173h2v1h-2zM136 174h1v1h-1zM132 175h1v1h-1zM369 175h1v3h-1zM131 176h1v1h-1zM1064 176h1v1h-1zM130 177h1v1h-1zM1063 177h1v1h-1zM1062 178h1v1h-1zM126 181h1v1h-1zM371 181h1v3h-1zM125 182h1v1h-1zM1059 182h1v1h-1zM124 183h1v1h-1zM1058 183h1v1h-1zM1057 184h1v1h-1zM121 187h1v1h-1zM373 187h1v3h-1zM120 188h1v1h-1zM1054 188h1v1h-1zM119 189h1v1h-1zM1053 189h1v1h-1zM1052 190h1v1h-1zM114 193h2v1h-2zM374 193h1v1h-1zM113 194h1v1h-1zM375 194h1v2h-1zM1049 194h1v1h-1zM1048 195h1v2h-1zM110 197h1v1h-1zM109 198h1v1h-1zM108 199h1v1h-1zM376 199h1v2h-1zM1044 200h1v1h-1zM377 201h1v1h-1zM1043 201h1v1h-1zM104 202h1v1h-1zM1042 202h1v1h-1zM103 203h1v1h-1zM102 204h1v1h-1zM378 205h1v3h-1zM1038 206h1v1h-1zM98 207h1v2h-1zM1037 207h1v1h-1zM1036 208h1v1h-1zM97 209h1v1h-1zM380 211h1v3h-1zM1033 212h1v2h-1zM93 213h1v1h-1zM92 214h1v1h-1zM1032 214h1v1h-1zM91 215h1v1h-1zM381 217h1v2h-1zM1029 218h1v2h-1zM88 219h1v1h-1zM382 219h1v1h-1zM86 220h2v1h-2zM1028 220h1v1h-1zM81 223h2v1h-2zM383 223h1v3h-1zM80 224h1v1h-1zM1027 224h1v1h-1zM1026 225h1v2h-1zM76 226h1v1h-1zM74 227h2v1h-2zM70 228h1v1h-1zM68 229h2v1h-2zM384 229h1v2h-1zM64 230h1v1h-1zM1024 230h1v1h-1zM62 231h2v1h-2zM385 231h1v1h-1zM1023 231h1v2h-1zM58 232h1v1h-1zM56 233h2v1h-2zM50 234h3v1h-3zM45 235h2v1h-2zM385 235h1v3h-1zM44 236h1v1h-1zM1021 236h1v2h-1zM2 237h3v1h-3zM8 237h3v1h-3zM14 237h3v1h-3zM20 237h3v1h-3zM26 237h3v1h-3zM32 237h3v1h-3zM38 237h3v1h-3zM1020 238h1v1h-1zM386 241h1v3h-1zM1018 242h1v1h-1zM1017 243h1v1h-1zM1016 244h1v1h-1zM387 247h1v1h-1zM388 248h1v2h-1zM1014 248h1v2h-1zM1013 250h1v1h-1zM389 253h1v3h-1zM1010 254h1v1h-1zM1009 255h1v2h-1zM390 259h1v1h-1zM391 260h1v2h-1zM1005 260h1v1h-1zM1004 261h1v1h-1zM1003 262h1v1h-1zM392 265h1v3h-1zM999 265h1v1h-1zM997 266h2v1h-2zM993 269h1v1h-1zM992 270h1v1h-1zM393 271h1v2h-1zM991 271h1v1h-1zM394 273h1v1h-1zM987 273h1v1h-1zM986 274h1v1h-1zM985 275h1v1h-1zM394 277h1v1h-1zM981 277h1v1h-1zM395 278h1v2h-1zM979 278h2v1h-2zM975 279h1v1h-1zM973 280h2v1h-2zM967 282h3v1h-3zM396 283h1v3h-1zM963 283h1v1h-1zM961 284h2v1h-2zM955 285h3v1h-3zM949 286h3v1h-3zM943 288h3v1h-3zM397 289h1v2h-1zM937 290h3v1h-3zM398 291h1v1h-1zM931 292h3v1h-3zM927 294h1v1h-1zM399 295h1v3h-1zM925 295h2v1h-2zM920 297h2v1h-2zM919 298h1v1h-1zM914 299h2v1h-2zM913 300h1v1h-1zM400 301h1v1h-1zM908 301h2v1h-2zM401 302h1v2h-1zM907 302h1v1h-1zM903 303h1v1h-1zM901 304h2v1h-2zM897 306h1v1h-1zM402 307h1v2h-1zM896 307h1v1h-1zM895 308h1v1h-1zM403 309h1v1h-1zM891 310h1v1h-1zM889 311h2v1h-2zM404 313h1v3h-1zM884 314h2v1h-2zM883 315h1v1h-1zM878 318h2v1h-2zM405 319h1v3h-1zM877 319h1v1h-1zM873 321h1v1h-1zM871 322h2v1h-2zM867 324h1v1h-1zM407 325h1v3h-1zM865 325h2v1h-2zM860 328h2v1h-2zM859 329h1v1h-1zM853 330h3v1h-3zM408 331h1v1h-1zM847 331h3v1h-3zM409 332h1v2h-1zM841 332h3v1h-3zM607 335h3v1h-3zM613 335h3v1h-3zM619 335h3v1h-3zM625 335h3v1h-3zM631 335h3v1h-3zM637 335h3v1h-3zM643 335h3v1h-3zM649 335h3v1h-3zM655 335h3v1h-3zM661 335h3v1h-3zM667 335h3v1h-3zM673 335h3v1h-3zM679 335h3v1h-3zM685 335h3v1h-3zM691 335h3v1h-3zM697 335h3v1h-3zM703 335h3v1h-3zM709 335h3v1h-3zM715 335h3v1h-3zM721 335h3v1h-3zM727 335h3v1h-3zM733 335h3v1h-3zM739 335h3v1h-3zM745 335h3v1h-3zM751 335h3v1h-3zM757 335h3v1h-3zM763 335h3v1h-3zM769 335h3v1h-3zM775 335h3v1h-3zM781 335h3v1h-3zM787 335h3v1h-3zM793 335h3v1h-3zM799 335h3v1h-3zM805 335h3v1h-3zM811 335h3v1h-3zM817 335h3v1h-3zM823 335h3v1h-3zM829 335h3v1h-3zM835 335h3v1h-3zM595 336h3v1h-3zM601 336h3v1h-3zM410 337h1v2h-1zM553 337h3v1h-3zM583 337h3v1h-3zM589 337h3v1h-3zM547 338h3v1h-3zM559 338h1v1h-1zM571 338h3v1h-3zM577 338h3v1h-3zM411 339h1v1h-1zM542 339h2v1h-2zM560 339h2v1h-2zM565 339h3v1h-3zM541 340h1v1h-1zM537 341h1v1h-1zM536 342h1v1h-1zM412 343h1v2h-1zM535 343h1v1h-1zM413 345h1v1h-1zM530 346h2v1h-2zM529 347h1v1h-1zM414 349h1v3h-1zM525 350h1v1h-1zM524 351h1v1h-1zM523 352h1v1h-1zM416 355h1v3h-1zM519 355h1v1h-1zM518 356h1v1h-1zM517 357h1v1h-1zM418 361h1v2h-1zM514 361h1v1h-1zM513 362h1v1h-1zM419 363h1v1h-1zM512 363h1v1h-1zM420 367h1v1h-1zM508 367h1v1h-1zM421 368h1v2h-1zM507 368h1v2h-1zM422 373h1v1h-1zM504 373h1v1h-1zM423 374h1v2h-1zM503 374h1v2h-1zM425 379h1v3h-1zM500 379h1v2h-1zM499 381h1v1h-1zM427 385h1v1h-1zM497 385h1v1h-1zM428 386h1v2h-1zM496 386h1v2h-1zM431 391h1v2h-1zM493 391h1v1h-1zM492 392h1v1h-1zM432 393h1v1h-1zM491 393h1v1h-1zM434 397h1v1h-1zM489 397h1v1h-1zM435 398h1v1h-1zM488 398h1v2h-1zM436 399h1v1h-1zM439 403h1v1h-1zM485 403h1v1h-1zM440 404h1v1h-1zM484 404h1v2h-1zM441 405h1v1h-1zM445 409h1v1h-1zM481 409h1v1h-1zM446 410h1v1h-1zM480 410h1v1h-1zM447 411h1v1h-1zM479 411h1v1h-1zM450 415h1v1h-1zM475 415h1v1h-1zM451 416h1v2h-1zM474 416h1v1h-1zM467 417h3v1h-3zM473 417h1v1h-1zM461 418h3v1h-3zM455 419h3v1h-3z"/>
<path fill="#ffa500" d="M276 124h2v1h-2zM281 124h3v1h-3zM287 124h3v1h-3zM293 124h3v1h-3zM299 124h3v1h-3zM275 125h1v1h-1zM305 125h3v1h-3zM270 126h2v1h-2zM311 126h1v1h-1zM269 127h1v1h-1zM312 127h2v1h-2zM265 128h1v1h-1zM1189 128h2v1h-2zM1364 128h1v1h-1zM1368 128h3v1h-3zM1374 128h3v1h-3zM1380 128h3v1h-3zM1386 128h3v1h-3zM1392 128h3v1h-3zM1398 128h3v1h-3zM1404 128h3v1h-3zM1410 128h3v1h-3zM1416 128h3v1h-3zM263 129h2v1h-2zM317 129h1v1h-1zM1188 129h1v1h-1zM1194 129h1v1h-1zM1340 129h1v1h-1zM1344 129h3v1h-3zM1350 129h3v1h-3zM1356 129h3v1h-3zM1362 129h2v1h-2zM1422 129h3v1h-3zM1428 129h3v1h-3zM318 130h2v1h-2zM1195 130h2v1h-2zM1326 130h3v1h-3zM1332 130h3v1h-3zM1338 130h2v1h-2zM1434 130h3v1h-3zM257 131h3v1h-3zM1183 131h2v1h-2zM1200 131h2v1h-2zM1314 131h3v1h-3zM1320 131h3v1h-3zM1182 132h1v1h-1zM1202 132h1v1h-1zM1206 132h1v1h-1zM1304 132h1v1h-1zM1308 132h3v1h-3zM1440 132h3v1h-3zM252 133h2v1h-2zM323 133h1v1h-1zM1207 133h2v1h-2zM1290 133h3v1h-3zM1296 133h3v1h-3zM1302 133h2v1h-2zM1446 133h1v1h-1zM251 134h1v1h-1zM324 134h1v1h-1zM1178 134h1v1h-1zM1212 134h3v1h-3zM1261 134h2v1h-2zM1266 134h3v1h-3zM1272 134h3v1h-3zM1278 134h3v1h-3zM1284 134h3v1h-3zM1447 134h2v1h-2zM247 135h1v1h-1zM325 135h1v1h-1zM1172 135h1v1h-1zM1176 135h2v1h-2zM1218 135h3v1h-3zM1224 135h3v1h-3zM1230 135h3v1h-3zM1243 135h2v1h-2zM1248 135h3v1h-3zM1254 135h3v1h-3zM1260 135h1v1h-1zM245 136h2v1h-2zM1164 136h3v1h-3zM1170 136h2v1h-2zM1236 136h3v1h-3zM1242 136h1v1h-1zM1452 136h2v1h-2zM329 137h2v1h-2zM1158 137h3v1h-3zM1454 137h1v1h-1zM1458 137h3v1h-3zM1464 137h1v1h-1zM1477 137h2v1h-2zM1482 137h3v1h-3zM241 138h1v1h-1zM331 138h1v1h-1zM1152 138h3v1h-3zM1465 138h2v1h-2zM1470 138h3v1h-3zM1476 138h1v1h-1zM240 139h1v1h-1zM239 140h1v1h-1zM335 140h2v1h-2zM1146 140h3v1h-3zM337 141h1v1h-1zM235 142h1v1h-1zM1142 142h1v1h-1zM234 143h1v2h-1zM1140 143h2v1h-2zM341 144h1v1h-1zM342 145h1v1h-1zM1135 145h2v1h-2zM343 146h1v1h-1zM1134 146h1v1h-1zM229 147h2v1h-2zM228 148h1v1h-1zM1130 148h1v1h-1zM1129 149h1v1h-1zM345 150h1v2h-1zM1128 150h1v1h-1zM223 151h2v1h-2zM222 152h1v1h-1zM346 152h1v1h-1zM1123 152h2v1h-2zM218 153h1v1h-1zM1122 153h1v1h-1zM217 154h1v1h-1zM216 155h1v1h-1zM1117 155h2v1h-2zM348 156h1v3h-1zM1116 156h1v1h-1zM211 158h2v1h-2zM210 159h1v1h-1zM1112 159h1v1h-1zM1111 160h1v1h-1zM1110 161h1v1h-1zM350 162h1v2h-1zM206 163h1v1h-1zM205 164h1v1h-1zM351 164h1v1h-1zM1106 164h1v1h-1zM204 165h1v1h-1zM1105 165h1v1h-1zM1104 166h1v1h-1zM199 168h2v1h-2zM353 168h1v1h-1zM198 169h1v1h-1zM354 169h1v1h-1zM1101 169h1v1h-1zM355 170h1v1h-1zM1100 170h1v1h-1zM1099 171h1v1h-1zM194 172h1v1h-1zM192 173h2v1h-2zM356 174h1v1h-1zM1095 174h1v1h-1zM188 175h1v1h-1zM357 175h1v2h-1zM1094 175h1v1h-1zM186 176h2v1h-2zM1093 176h1v1h-1zM182 178h1v1h-1zM180 179h2v1h-2zM1089 179h1v2h-1zM359 180h1v2h-1zM176 181h1v1h-1zM1088 181h1v1h-1zM169 182h2v1h-2zM174 182h2v1h-2zM360 182h1v1h-1zM163 183h2v1h-2zM168 183h1v1h-1zM1084 183h1v1h-1zM162 184h1v1h-1zM1082 184h2v1h-2zM156 185h3v1h-3zM151 186h2v1h-2zM361 186h1v2h-1zM1078 186h1v1h-1zM150 187h1v1h-1zM1076 187h2v1h-2zM362 188h1v1h-1zM146 189h1v1h-1zM144 190h2v1h-2zM1072 190h1v1h-1zM1070 191h2v1h-2zM140 192h1v1h-1zM363 192h1v2h-1zM139 193h1v1h-1zM138 194h1v1h-1zM364 194h1v1h-1zM1066 195h1v1h-1zM134 196h1v2h-1zM1065 196h1v1h-1zM1064 197h1v1h-1zM133 198h1v1h-1zM365 198h1v2h-1zM366 200h1v1h-1zM1061 201h1v1h-1zM129 202h1v1h-1zM1060 202h1v2h-1zM128 203h1v1h-1zM127 204h1v1h-1zM367 204h1v3h-1zM123 207h1v1h-1zM1057 207h1v1h-1zM122 208h1v1h-1zM1056 208h1v1h-1zM121 209h1v1h-1zM1055 209h1v1h-1zM369 210h1v3h-1zM117 213h1v1h-1zM1053 213h1v1h-1zM116 214h1v1h-1zM1052 214h1v1h-1zM115 215h1v1h-1zM1051 215h1v1h-1zM370 216h1v1h-1zM371 217h1v2h-1zM111 218h1v1h-1zM110 219h1v1h-1zM1049 219h1v1h-1zM109 220h1v1h-1zM1048 220h1v1h-1zM1047 221h1v1h-1zM372 222h1v2h-1zM105 223h1v1h-1zM104 224h1v1h-1zM373 224h1v1h-1zM103 225h1v1h-1zM1043 225h1v1h-1zM1042 226h1v1h-1zM1041 227h1v1h-1zM374 228h1v2h-1zM100 229h1v1h-1zM99 230h1v1h-1zM375 230h1v1h-1zM98 231h1v1h-1zM1037 231h1v2h-1zM1036 233h1v1h-1zM376 234h1v2h-1zM94 235h1v1h-1zM93 236h1v1h-1zM377 236h1v1h-1zM1033 236h1v1h-1zM92 237h1v1h-1zM1032 237h1v2h-1zM378 240h1v3h-1zM87 241h2v1h-2zM86 242h1v1h-1zM1030 242h1v1h-1zM1029 243h1v2h-1zM81 246h2v1h-2zM379 246h1v1h-1zM80 247h1v1h-1zM380 247h1v2h-1zM1027 248h1v1h-1zM1026 249h1v2h-1zM76 250h1v1h-1zM74 251h2v1h-2zM70 252h1v1h-1zM381 252h1v3h-1zM68 253h2v1h-2zM64 254h1v1h-1zM1023 254h1v2h-1zM62 255h2v1h-2zM1022 256h1v1h-1zM56 257h3v1h-3zM52 258h1v1h-1zM382 258h1v2h-1zM50 259h2v1h-2zM46 260h1v1h-1zM383 260h1v1h-1zM1020 260h1v2h-1zM44 261h2v1h-2zM39 262h2v1h-2zM1019 262h1v1h-1zM2 263h3v1h-3zM8 263h3v1h-3zM14 263h3v1h-3zM20 263h3v1h-3zM26 263h3v1h-3zM32 263h3v1h-3zM38 263h1v1h-1zM384 264h1v3h-1zM1017 266h1v2h-1zM1016 268h1v1h-1zM385 270h1v2h-1zM386 272h1v1h-1zM1013 272h1v1h-1zM1012 273h1v1h-1zM1011 274h1v1h-1zM387 276h1v3h-1zM1008 278h1v1h-1zM1007 279h1v1h-1zM1006 280h1v1h-1zM388 282h1v1h-1zM389 283h1v2h-1zM1001 283h2v1h-2zM1000 284h1v1h-1zM996 287h1v1h-1zM390 288h1v3h-1zM995 288h1v1h-1zM994 289h1v1h-1zM990 292h1v1h-1zM988 293h2v1h-2zM391 294h1v1h-1zM392 295h1v2h-1zM984 295h1v1h-1zM982 296h2v1h-2zM978 298h1v1h-1zM977 299h1v1h-1zM393 300h1v3h-1zM976 300h1v1h-1zM970 301h3v1h-3zM966 302h1v1h-1zM964 303h2v1h-2zM958 304h3v1h-3zM953 305h2v1h-2zM394 306h1v1h-1zM952 306h1v1h-1zM395 307h1v2h-1zM947 307h2v1h-2zM946 308h1v1h-1zM940 309h3v1h-3zM934 311h3v1h-3zM396 312h1v3h-1zM929 314h2v1h-2zM928 315h1v1h-1zM922 317h3v1h-3zM397 318h1v2h-1zM918 319h1v1h-1zM398 320h1v1h-1zM916 320h2v1h-2zM911 322h2v1h-2zM910 323h1v1h-1zM399 324h1v3h-1zM906 324h1v1h-1zM904 325h2v1h-2zM899 328h2v1h-2zM898 329h1v1h-1zM400 330h1v1h-1zM401 331h1v2h-1zM894 332h1v1h-1zM892 333h2v1h-2zM402 336h1v2h-1zM887 336h2v1h-2zM886 337h1v1h-1zM403 338h1v1h-1zM882 339h1v1h-1zM881 340h1v1h-1zM880 341h1v1h-1zM404 342h1v3h-1zM875 343h2v1h-2zM874 344h1v1h-1zM870 346h1v1h-1zM869 347h1v1h-1zM405 348h1v1h-1zM868 348h1v1h-1zM406 349h1v2h-1zM864 350h1v1h-1zM863 351h1v1h-1zM862 352h1v1h-1zM407 354h1v2h-1zM856 354h3v1h-3zM850 355h3v1h-3zM408 356h1v1h-1zM846 356h1v1h-1zM844 357h2v1h-2zM840 358h1v1h-1zM838 359h2v1h-2zM409 360h1v3h-1zM610 360h3v1h-3zM616 360h3v1h-3zM622 360h3v1h-3zM628 360h3v1h-3zM634 360h3v1h-3zM640 360h3v1h-3zM646 360h3v1h-3zM652 360h3v1h-3zM658 360h3v1h-3zM664 360h3v1h-3zM670 360h3v1h-3zM676 360h3v1h-3zM682 360h3v1h-3zM688 360h3v1h-3zM694 360h3v1h-3zM700 360h3v1h-3zM706 360h3v1h-3zM712 360h3v1h-3zM718 360h3v1h-3zM724 360h3v1h-3zM730 360h3v1h-3zM736 360h3v1h-3zM742 360h3v1h-3zM748 360h3v1h-3zM754 360h3v1h-3zM760 360h3v1h-3zM766 360h3v1h-3zM772 360h3v1h-3zM778 360h3v1h-3zM784 360h3v1h-3zM790 360h3v1h-3zM796 360h3v1h-3zM802 360h3v1h-3zM808 360h3v1h-3zM814 360h3v1h-3zM820 360h3v1h-3zM826 360h3v1h-3zM832 360h3v1h-3zM546 361h1v1h-1zM550 361h3v1h-3zM604 361h3v1h-3zM544 362h2v1h-2zM556 362h1v1h-1zM598 362h3v1h-3zM557 363h2v1h-2zM582 363h1v1h-1zM586 363h3v1h-3zM592 363h3v1h-3zM538 364h3v1h-3zM568 364h3v1h-3zM574 364h3v1h-3zM580 364h2v1h-2zM562 365h3v1h-3zM411 366h1v2h-1zM533 367h2v1h-2zM412 368h1v1h-1zM532 368h1v1h-1zM528 369h1v1h-1zM526 370h2v1h-2zM413 372h1v3h-1zM522 374h1v1h-1zM521 375h1v1h-1zM520 376h1v1h-1zM415 378h1v3h-1zM517 380h1v1h-1zM516 381h1v2h-1zM417 384h1v3h-1zM513 386h1v2h-1zM512 388h1v1h-1zM419 390h1v3h-1zM510 392h1v1h-1zM509 393h1v1h-1zM508 394h1v1h-1zM421 396h1v3h-1zM506 398h1v1h-1zM505 399h1v2h-1zM423 402h1v2h-1zM424 404h1v1h-1zM502 404h1v2h-1zM501 406h1v1h-1zM426 408h1v3h-1zM499 410h1v1h-1zM498 411h1v1h-1zM497 412h1v1h-1zM429 414h1v2h-1zM430 416h1v1h-1zM495 416h1v1h-1zM494 417h1v1h-1zM493 418h1v1h-1zM432 420h1v1h-1zM433 421h2v1h-2zM491 422h1v1h-1zM490 423h1v1h-1zM489 424h1v1h-1zM438 425h2v1h-2zM440 426h1v1h-1zM487 428h1v1h-1zM486 429h1v1h-1zM444 430h2v1h-2zM485 430h1v1h-1zM446 431h1v1h-1zM450 434h2v1h-2zM482 434h1v1h-1zM452 435h1v1h-1zM481 435h1v1h-1zM480 436h1v1h-1zM456 439h2v1h-2zM476 439h1v1h-1zM458 440h1v1h-1zM475 440h1v1h-1zM474 441h1v1h-1zM462 442h3v1h-3zM468 442h3v1h-3z"/>
</g>
<g shape-rendering="crispEdges">
<path fill="#32cd32" d="M277 113h8v1h-8zM272 114h13v1h-13zM268 115h10v1h-10zM290 115h1v1h-1zM265 116h8v1h-8zM1376 116h25v1h-25zM264 117h5v1h-5zM1190 117h2v1h-2zM1352 117h49v1h-49zM263 118h3v1h-3zM1189 118h2v1h-2zM1334 118h43v1h-43zM261 119h4v1h-4zM1187 119h4v1h-4zM1323 119h30v1h-30zM256 120h8v1h-8zM1185 120h5v1h-5zM1312 120h23v1h-23zM252 121h10v1h-10zM1184 121h4v1h-4zM1302 121h22v1h-22zM248 122h9v1h-9zM1183 122h3v1h-3zM1294 122h19v1h-19zM246 123h7v1h-7zM1181 123h4v1h-4zM1284 123h19v1h-19zM244 124h5v1h-5zM1179 124h5v1h-5zM1239 124h56v1h-56zM1482 124h5v1h-5zM242 125h5v1h-5zM1177 125h5v1h-5zM1239 125h46v1h-46zM1463 125h1v1h-1zM1471 125h16v1h-16zM240 126h5v1h-5zM1174 126h6v1h-6zM1467 126h16v1h-16zM239 127h4v1h-4zM1160 127h2v1h-2zM1172 127h6v1h-6zM1467 127h5v1h-5zM238 128h3v1h-3zM1154 128h8v1h-8zM1172 128h3v1h-3zM236 129h4v1h-4zM1150 129h11v1h-11zM235 130h4v1h-4zM1147 130h8v1h-8zM233 131h4v1h-4zM1143 131h8v1h-8zM232 132h4v1h-4zM1140 132h8v1h-8zM231 133h3v1h-3zM1139 133h5v1h-5zM230 134h3v1h-3zM1137 134h4v1h-4zM229 135h3v1h-3zM1135 135h5v1h-5zM227 136h4v1h-4zM1133 136h5v1h-5zM226 137h4v1h-4zM1131 137h5v1h-5zM225 138h3v1h-3zM1128 138h6v1h-6zM224 139h3v1h-3zM1126 139h6v1h-6zM222 140h4v1h-4zM1124 140h5v1h-5zM220 141h5v1h-5zM1123 141h4v1h-4zM218 142h5v1h-5zM1122 142h3v1h-3zM216 143h5v1h-5zM1120 143h4v1h-4zM214 144h5v1h-5zM1119 144h4v1h-4zM213 145h4v1h-4zM1117 145h4v1h-4zM212 146h3v1h-3zM1116 146h4v1h-4zM211 147h3v1h-3zM1114 147h4v1h-4zM210 148h3v1h-3zM1113 148h4v1h-4zM208 149h4v1h-4zM1113 149h2v1h-2zM207 150h4v1h-4zM1111 150h4v1h-4zM206 151h3v1h-3zM1110 151h4v1h-4zM206 152h2v1h-2zM1108 152h4v1h-4zM205 153h3v1h-3zM1107 153h4v1h-4zM204 154h3v1h-3zM1106 154h3v1h-3zM203 155h3v1h-3zM1104 155h4v1h-4zM202 156h3v1h-3zM1103 156h4v1h-4zM201 157h3v1h-3zM1101 157h4v1h-4zM200 158h3v1h-3zM1100 158h4v1h-4zM199 159h3v1h-3zM1099 159h3v1h-3zM197 160h4v1h-4zM1098 160h3v1h-3zM195 161h5v1h-5zM1096 161h4v1h-4zM193 162h5v1h-5zM1095 162h4v1h-4zM191 163h5v1h-5zM1094 163h3v1h-3zM189 164h5v1h-5zM1093 164h3v1h-3zM187 165h5v1h-5zM1091 165h4v1h-4zM184 166h6v1h-6zM1090 166h4v1h-4zM183 167h5v1h-5zM1088 167h4v1h-4zM181 168h4v1h-4zM1085 168h6v1h-6zM179 169h5v1h-5zM1083 169h6v1h-6zM177 170h5v1h-5zM1082 170h4v1h-4zM175 171h5v1h-5zM1080 171h4v1h-4zM174 172h4v1h-4zM1078 172h5v1h-5zM170 173h6v1h-6zM1076 173h5v1h-5zM157 174h18v1h-18zM1075 174h4v1h-4zM153 175h18v1h-18zM1074 175h3v1h-3zM151 176h7v1h-7zM1072 176h4v1h-4zM149 177h5v1h-5zM1069 177h6v1h-6zM147 178h5v1h-5zM1067 178h6v1h-6zM145 179h5v1h-5zM1066 179h4v1h-4zM143 180h5v1h-5zM1066 180h2v1h-2zM141 181h5v1h-5zM1064 181h4v1h-4zM140 182h4v1h-4zM1063 182h4v1h-4zM138 183h4v1h-4zM1062 183h3v1h-3zM135 184h6v1h-6zM1061 184h3v1h-3zM133 185h6v1h-6zM1060 185h3v1h-3zM132 186h4v1h-4zM1059 186h3v1h-3zM131 187h3v1h-3zM1058 187h3v1h-3zM130 188h3v1h-3zM1058 188h2v1h-2zM128 189h4v1h-4zM1057 189h3v1h-3zM127 190h4v1h-4zM1056 190h3v1h-3zM126 191h3v1h-3zM1056 191h2v1h-2zM126 192h2v1h-2zM1055 192h3v1h-3zM125 193h3v1h-3zM1055 193h2v1h-2zM124 194h3v1h-3zM1054 194h3v1h-3zM123 195h3v1h-3zM1053 195h3v1h-3zM122 196h3v1h-3zM1053 196h2v1h-2zM120 197h4v1h-4zM1052 197h3v1h-3zM119 198h4v1h-4zM1051 198h3v1h-3zM118 199h3v1h-3zM1050 199h3v1h-3zM118 200h2v1h-2zM1050 200h2v1h-2zM117 201h3v1h-3zM1049 201h3v1h-3zM116 202h3v1h-3zM1048 202h3v1h-3zM115 203h3v1h-3zM1047 203h3v1h-3zM115 204h2v1h-2zM1046 204h3v1h-3zM114 205h3v1h-3zM1045 205h3v1h-3zM113 206h3v1h-3zM1045 206h2v1h-2zM111 207h4v1h-4zM1044 207h3v1h-3zM110 208h4v1h-4zM1043 208h3v1h-3zM109 209h3v1h-3zM1042 209h3v1h-3zM107 210h4v1h-4zM1040 210h4v1h-4zM105 211h5v1h-5zM1039 211h4v1h-4zM104 212h4v1h-4zM1038 212h3v1h-3zM102 213h4v1h-4zM1038 213h2v1h-2zM101 214h4v1h-4zM1037 214h3v1h-3zM100 215h3v1h-3zM1036 215h3v1h-3zM99 216h3v1h-3zM1035 216h3v1h-3zM98 217h3v1h-3zM1034 217h3v1h-3zM97 218h3v1h-3zM1033 218h3v1h-3zM96 219h3v1h-3zM1032 219h3v1h-3zM95 220h3v1h-3zM1032 220h2v1h-2zM94 221h3v1h-3zM1031 221h3v1h-3zM93 222h3v1h-3zM1030 222h3v1h-3zM93 223h2v1h-2zM1030 223h2v1h-2zM92 224h3v1h-3zM1029 224h3v1h-3zM91 225h3v1h-3zM1028 225h3v1h-3zM90 226h3v1h-3zM1027 226h3v1h-3zM90 227h2v1h-2zM1027 227h2v1h-2zM88 228h4v1h-4zM1026 228h3v1h-3zM87 229h4v1h-4zM1026 229h2v1h-2zM85 230h4v1h-4zM1025 230h3v1h-3zM84 231h4v1h-4zM1025 231h2v1h-2zM83 232h3v1h-3zM1024 232h3v1h-3zM81 233h4v1h-4zM1024 233h2v1h-2zM79 234h5v1h-5zM1023 234h3v1h-3zM78 235h4v1h-4zM1023 235h2v1h-2zM76 236h4v1h-4zM1022 236h3v1h-3zM74 237h5v1h-5zM1022 237h2v2h-2zM73 238h4v1h-4zM69 239h6v1h-6zM1021 239h3v1h-3zM66 240h8v1h-8zM1021 240h2v2h-2zM64 241h6v1h-6zM62 242h5v1h-5zM1020 242h3v1h-3zM60 243h5v1h-5zM1020 243h2v1h-2zM57 244h6v1h-6zM1019 244h3v1h-3zM54 245h7v1h-7zM1019 245h2v1h-2zM50 246h8v1h-8zM1018 246h3v1h-3zM45 247h10v1h-10zM1018 247h2v2h-2zM7 248h44v1h-44zM1 249h45v1h-45zM1017 249h3v1h-3zM1 250h7v1h-7zM1017 250h2v1h-2zM1016 251h3v1h-3zM1016 252h2v1h-2zM1015 253h3v1h-3zM1015 254h2v1h-2zM1014 255h3v1h-3zM1014 256h2v1h-2zM1013 257h3v1h-3zM1013 258h2v1h-2zM1012 259h3v1h-3zM1011 260h3v1h-3zM1010 261h3v1h-3zM1009 262h3v1h-3zM1008 263h3v1h-3zM1007 264h3v1h-3zM1006 265h3v1h-3zM1005 266h3v1h-3zM1004 267h3v1h-3zM1004 268h2v1h-2zM1003 269h3v1h-3zM1001 270h4v1h-4zM1000 271h4v1h-4zM999 272h3v1h-3zM998 273h3v1h-3zM996 274h4v1h-4zM995 275h4v1h-4zM994 276h3v1h-3zM992 277h4v1h-4zM991 278h4v1h-4zM989 279h4v1h-4zM988 280h4v1h-4zM987 281h3v1h-3zM985 282h4v1h-4zM984 283h4v1h-4zM982 284h4v1h-4zM981 285h4v1h-4zM978 286h5v1h-5zM975 287h7v1h-7zM973 288h6v1h-6zM970 289h6v1h-6zM968 290h6v1h-6zM966 291h5v1h-5zM964 292h5v1h-5zM960 293h7v1h-7zM955 294h10v1h-10zM950 295h11v1h-11zM947 296h9v1h-9zM943 297h8v1h-8zM939 298h9v1h-9zM935 299h9v1h-9zM932 300h8v1h-8zM930 301h6v1h-6zM929 302h4v1h-4zM927 303h4v1h-4zM924 304h6v1h-6zM922 305h6v1h-6zM920 306h5v1h-5zM917 307h6v1h-6zM914 308h7v1h-7zM912 309h6v1h-6zM909 310h6v1h-6zM905 311h8v1h-8zM903 312h7v1h-7zM901 313h5v1h-5zM899 314h5v1h-5zM898 315h4v1h-4zM896 316h4v1h-4zM895 317h4v1h-4zM894 318h3v1h-3zM892 319h4v1h-4zM890 320h5v1h-5zM889 321h4v1h-4zM887 322h4v1h-4zM885 323h5v1h-5zM884 324h4v1h-4zM882 325h4v1h-4zM880 326h5v1h-5zM879 327h4v1h-4zM878 328h3v1h-3zM876 329h4v1h-4zM874 330h5v1h-5zM873 331h4v1h-4zM871 332h4v1h-4zM869 333h5v1h-5zM867 334h5v1h-5zM865 335h5v1h-5zM863 336h5v1h-5zM862 337h4v1h-4zM860 338h4v1h-4zM856 339h7v1h-7zM851 340h10v1h-10zM847 341h10v1h-10zM842 342h10v1h-10zM838 343h10v1h-10zM835 344h8v1h-8zM608 345h38v1h-38zM654 345h16v2h-16zM683 345h35v2h-35zM723 345h36v2h-36zM764 345h3v2h-3zM775 345h23v2h-23zM814 345h5v2h-5zM823 345h16v1h-16zM546 346h1v1h-1zM592 346h54v1h-54zM823 346h13v1h-13zM544 347h3v1h-3zM578 347h31v1h-31zM542 348h5v1h-5zM571 348h22v1h-22zM540 349h5v1h-5zM566 349h13v1h-13zM537 350h6v1h-6zM566 350h6v1h-6zM534 351h7v1h-7zM565 351h2v1h-2zM531 352h7v1h-7zM528 353h7v1h-7zM527 354h5v1h-5zM525 355h4v1h-4zM524 356h4v1h-4zM523 357h3v1h-3zM522 358h3v1h-3zM521 359h3v1h-3zM520 360h3v1h-3zM520 361h2v1h-2zM519 362h3v1h-3zM518 363h3v1h-3zM517 364h3v1h-3zM517 365h2v1h-2zM516 366h3v1h-3zM515 367h3v1h-3zM514 368h3v1h-3zM514 369h2v1h-2zM513 370h3v1h-3zM512 371h3v1h-3zM511 372h3v1h-3zM511 373h2v1h-2zM510 374h3v1h-3zM509 375h3v1h-3zM509 376h2v1h-2zM508 377h3v1h-3zM507 378h3v1h-3zM506 379h3v1h-3zM506 380h2v1h-2zM505 381h3v1h-3zM505 382h2v1h-2zM504 383h3v1h-3zM504 384h2v1h-2zM503 385h3v1h-3zM502 386h3v1h-3zM502 387h2v1h-2zM501 388h3v1h-3zM501 389h2v1h-2zM500 390h3v1h-3zM499 391h3v1h-3zM499 392h2v1h-2zM498 393h3v1h-3zM498 394h2v1h-2zM497 395h3v1h-3zM496 396h3v1h-3zM496 397h2v1h-2zM495 398h3v1h-3zM494 399h3v1h-3zM494 400h2v1h-2zM493 401h3v1h-3zM492 402h3v1h-3zM492 403h2v1h-2zM491 404h3v1h-3zM490 405h3v1h-3zM489 406h3v1h-3zM488 407h3v1h-3zM488 408h2v1h-2zM487 409h3v1h-3zM487 410h2v1h-2zM486 411h3v1h-3zM485 412h3v1h-3zM484 413h3v1h-3zM484 414h2v1h-2zM483 415h3v1h-3zM482 416h3v1h-3zM482 417h2v1h-2zM481 418h3v1h-3zM480 419h3v1h-3zM480 420h2v1h-2zM479 421h3v1h-3zM478 422h3v1h-3zM478 423h2v1h-2zM477 424h3v1h-3zM476 425h3v1h-3zM475 426h3v1h-3zM474 427h3v1h-3zM472 428h4v1h-4zM455 429h3v1h-3zM474 429h1v1h-1zM455 430h8v1h-8zM457 431h9v1h-9zM462 432h4v1h-4z"/>
<path fill="#ff0000" d="M285 113h7v1h-7zM285 114h18v1h-18zM291 115h15v1h-15zM302 116h12v1h-12zM1401 116h14v1h-14zM305 117h11v1h-11zM1401 117h30v1h-30zM313 118h5v1h-5zM1191 118h5v1h-5zM1414 118h20v1h-20zM315 119h4v1h-4zM1191 119h8v1h-8zM1430 119h7v1h-7zM317 120h4v1h-4zM1195 120h8v1h-8zM1433 120h8v1h-8zM318 121h4v1h-4zM1198 121h11v1h-11zM1436 121h8v1h-8zM320 122h3v1h-3zM1202 122h12v1h-12zM1440 122h8v1h-8zM321 123h3v1h-3zM1208 123h11v1h-11zM1443 123h8v1h-8zM322 124h5v1h-5zM1213 124h26v1h-26zM1447 124h8v1h-8zM323 125h7v1h-7zM1218 125h21v1h-21zM1450 125h13v1h-13zM326 126h8v1h-8zM1454 126h13v1h-13zM329 127h8v1h-8zM1162 127h10v2h-10zM1462 127h5v1h-5zM333 128h6v1h-6zM336 129h4v1h-4zM338 130h3v1h-3zM339 131h3v1h-3zM340 132h3v1h-3zM341 133h3v1h-3zM342 134h2v1h-2zM342 135h3v1h-3zM343 136h3v1h-3zM344 137h2v1h-2zM344 138h3v1h-3zM345 139h2v1h-2zM345 140h3v1h-3zM346 141h2v2h-2zM346 143h3v1h-3zM347 144h2v1h-2zM347 145h3v1h-3zM348 146h3v1h-3zM349 147h2v1h-2zM349 148h3v1h-3zM350 149h2v1h-2zM350 150h3v1h-3zM351 151h2v1h-2zM351 152h3v1h-3zM352 153h2v1h-2zM352 154h3v1h-3zM353 155h2v1h-2zM353 156h3v1h-3zM354 157h2v1h-2zM354 158h3v1h-3zM355 159h3v1h-3zM356 160h2v1h-2zM356 161h3v1h-3zM357 162h2v1h-2zM357 163h3v1h-3zM358 164h2v2h-2zM358 166h3v1h-3zM359 167h2v2h-2zM359 169h3v1h-3zM360 170h2v2h-2zM360 172h3v1h-3zM361 173h2v2h-2zM361 175h3v1h-3zM362 176h2v1h-2zM362 177h3v1h-3zM363 178h2v2h-2zM363 180h3v1h-3zM364 181h2v3h-2zM364 184h3v1h-3zM365 185h2v2h-2zM365 187h3v1h-3zM366 188h2v2h-2zM366 190h3v1h-3zM367 191h2v3h-2zM367 194h3v1h-3zM368 195h2v2h-2zM368 197h3v1h-3zM369 198h2v2h-2zM369 200h3v1h-3zM370 201h2v1h-2zM370 202h3v1h-3zM371 203h2v2h-2zM371 205h3v1h-3zM372 206h2v3h-2zM372 209h3v1h-3zM373 210h2v2h-2zM373 212h3v1h-3zM374 213h2v2h-2zM374 215h3v1h-3zM375 216h2v3h-2zM375 219h3v1h-3zM376 220h2v3h-2zM376 223h3v1h-3zM377 224h2v2h-2zM377 226h3v1h-3zM378 227h2v2h-2zM378 229h3v1h-3zM379 230h2v4h-2zM379 234h3v1h-3zM380 235h2v4h-2zM380 239h3v1h-3zM381 240h2v4h-2zM381 244h3v1h-3zM382 245h2v4h-2zM382 249h3v1h-3zM383 250h2v4h-2zM383 254h3v1h-3zM384 255h2v4h-2zM384 259h3v1h-3zM385 260h2v3h-2zM385 263h3v1h-3zM386 264h2v4h-2zM386 268h3v1h-3zM387 269h2v3h-2zM387 272h3v1h-3zM388 273h2v4h-2zM388 277h3v1h-3zM389 278h2v3h-2zM389 281h3v1h-3zM390 282h2v3h-2zM390 285h3v1h-3zM391 286h2v2h-2zM391 288h3v1h-3zM392 289h2v2h-2zM392 291h3v1h-3zM393 292h2v3h-2zM393 295h3v1h-3zM394 296h2v3h-2zM394 299h3v1h-3zM395 300h2v3h-2zM395 303h3v1h-3zM396 304h2v4h-2zM396 308h3v1h-3zM397 309h2v3h-2zM397 312h3v1h-3zM398 313h2v3h-2zM398 316h3v1h-3zM399 317h2v4h-2zM399 321h3v1h-3zM400 322h2v3h-2zM400 325h3v1h-3zM401 326h2v3h-2zM401 329h3v1h-3zM402 330h2v2h-2zM402 332h3v1h-3zM403 333h2v2h-2zM403 335h3v1h-3zM404 336h2v2h-2zM404 338h3v1h-3zM405 339h2v3h-2zM405 342h3v1h-3zM406 343h2v1h-2zM406 344h3v1h-3zM407 345h2v2h-2zM646 345h8v2h-8zM670 345h13v2h-13zM718 345h5v2h-5zM759 345h5v2h-5zM767 345h8v2h-8zM798 345h16v2h-16zM819 345h4v2h-4zM547 346h2v1h-2zM407 347h3v1h-3zM547 347h6v1h-6zM408 348h2v2h-2zM548 348h8v1h-8zM552 349h14v1h-14zM408 350h3v1h-3zM555 350h11v1h-11zM409 351h2v2h-2zM409 353h3v1h-3zM410 354h2v3h-2zM410 357h3v1h-3zM411 358h2v2h-2zM411 360h3v1h-3zM412 361h2v2h-2zM412 363h3v1h-3zM413 364h2v2h-2zM413 366h3v1h-3zM414 367h2v2h-2zM414 369h3v1h-3zM415 370h2v2h-2zM415 372h3v1h-3zM416 373h2v2h-2zM416 375h3v1h-3zM417 376h2v2h-2zM417 378h3v1h-3zM418 379h2v2h-2zM418 381h3v1h-3zM419 382h2v1h-2zM419 383h3v1h-3zM420 384h2v2h-2zM420 386h3v1h-3zM421 387h2v2h-2zM421 389h3v1h-3zM422 390h2v2h-2zM422 392h3v1h-3zM423 393h2v1h-2zM423 394h3v1h-3zM424 395h2v2h-2zM424 397h3v1h-3zM425 398h2v2h-2zM425 400h3v1h-3zM426 401h2v2h-2zM426 403h3v1h-3zM427 404h2v1h-2zM427 405h3v1h-3zM428 406h2v1h-2zM428 407h3v1h-3zM429 408h3v1h-3zM430 409h4v1h-4zM431 410h4v1h-4zM433 411h3v1h-3zM434 412h3v1h-3zM435 413h3v1h-3zM436 414h3v1h-3zM437 415h4v1h-4zM438 416h4v1h-4zM440 417h3v1h-3zM441 418h3v1h-3zM442 419h4v1h-4zM443 420h4v1h-4zM445 421h3v1h-3zM446 422h2v1h-2zM446 423h3v1h-3zM447 424h4v1h-4zM448 425h4v1h-4zM450 426h3v1h-3zM451 427h3v1h-3zM452 428h3v1h-3zM453 429h2v2h-2zM471 429h3v1h-3zM467 430h7v1h-7zM466 431h6v1h-6zM466 432h2v1h-2z"/>
</g>
<g shape-rendering="crispEdges">
<path fill="#32cd32" d="M2 503h3v1h-3zM8 503h3v1h-3zM14 503h3v1h-3zM20 503h3v1h-3zM26 503h3v1h-3zM32 503h3v1h-3zM38 503h2v1h-2zM40 504h1v1h-1zM40 508h1v3h-1zM41 514h1v3h-1zM41 520h1v2h-1zM838 521h2v1h-2zM843 521h3v1h-3zM849 521h3v1h-3zM855 521h3v1h-3zM861 521h3v1h-3zM867 521h3v1h-3zM873 521h3v1h-3zM879 521h3v1h-3zM885 521h3v1h-3zM891 521h3v1h-3zM897 521h3v1h-3zM903 521h3v1h-3zM909 521h3v1h-3zM915 521h3v1h-3zM921 521h3v1h-3zM42 522h1v1h-1zM837 522h1v1h-1zM831 523h3v1h-3zM927 523h1v1h-1zM825 524h3v1h-3zM928 524h1v1h-1zM819 525h3v1h-3zM929 525h1v1h-1zM44 526h1v3h-1zM813 526h3v1h-3zM1083 526h3v1h-3zM1089 526h3v1h-3zM1095 526h3v1h-3zM1101 526h3v1h-3zM1107 526h3v1h-3zM1113 526h3v1h-3zM1119 526h3v1h-3zM1125 526h3v1h-3zM1131 526h3v1h-3zM1137 526h3v1h-3zM1143 526h3v1h-3zM1149 526h3v1h-3zM1155 526h3v1h-3zM1161 526h3v1h-3zM1167 526h3v1h-3zM1173 526h3v1h-3zM1179 526h3v1h-3zM1185 526h3v1h-3zM1191 526h3v1h-3zM1197 526h3v1h-3zM1203 526h3v1h-3zM1209 526h3v1h-3zM1215 526h3v1h-3zM1221 526h3v1h-3zM1227 526h3v1h-3zM1233 526h3v1h-3zM1239 526h3v1h-3zM1245 526h3v1h-3zM1251 526h3v1h-3zM1257 526h3v1h-3zM1263 526h3v1h-3zM1269 526h3v1h-3zM807 527h3v1h-3zM975 527h3v1h-3zM981 527h3v1h-3zM987 527h3v1h-3zM993 527h3v1h-3zM999 527h3v1h-3zM1005 527h3v1h-3zM1011 527h3v1h-3zM1017 527h3v1h-3zM1023 527h3v1h-3zM1029 527h3v1h-3zM1035 527h3v1h-3zM1041 527h3v1h-3zM1047 527h3v1h-3zM1053 527h3v1h-3zM1059 527h3v1h-3zM1065 527h3v1h-3zM1071 527h3v1h-3zM1077 527h3v1h-3zM802 528h2v1h-2zM933 528h3v1h-3zM939 528h3v1h-3zM945 528h3v1h-3zM951 528h3v1h-3zM957 528h3v1h-3zM963 528h3v1h-3zM969 528h3v1h-3zM1275 528h2v1h-2zM801 529h1v1h-1zM1277 529h1v1h-1zM1281 529h3v1h-3zM1287 529h3v1h-3zM1293 529h3v1h-3zM1299 529h3v1h-3zM1305 529h3v1h-3zM1311 529h3v1h-3zM1317 529h3v1h-3zM1323 529h3v1h-3zM1329 529h3v1h-3zM1335 529h3v1h-3zM1341 529h3v1h-3zM1347 529h3v1h-3zM1353 529h2v1h-2zM1355 530h1v1h-1zM1359 531h3v1h-3zM1365 531h3v1h-3zM1371 531h3v1h-3zM1377 531h3v1h-3zM1383 531h3v1h-3zM1389 531h3v1h-3zM1395 531h3v1h-3zM1401 531h3v1h-3zM1407 531h3v1h-3zM1413 531h3v1h-3zM1419 531h3v1h-3zM1425 531h3v1h-3zM1431 531h2v1h-2zM46 532h1v1h-1zM797 532h1v1h-1zM1433 532h1v1h-1zM47 533h2v1h-2zM52 533h3v1h-3zM58 533h3v1h-3zM64 533h3v1h-3zM70 533h3v1h-3zM76 533h3v1h-3zM82 533h3v1h-3zM88 533h3v1h-3zM94 533h3v1h-3zM100 533h3v1h-3zM106 533h3v1h-3zM112 533h3v1h-3zM118 533h3v1h-3zM124 533h3v1h-3zM130 533h3v1h-3zM136 533h3v1h-3zM142 533h3v1h-3zM148 533h3v1h-3zM154 533h3v1h-3zM160 533h3v1h-3zM166 533h3v1h-3zM172 533h3v1h-3zM178 533h3v1h-3zM184 533h3v1h-3zM190 533h3v1h-3zM196 533h3v1h-3zM202 533h3v1h-3zM208 533h3v1h-3zM214 533h3v1h-3zM220 533h3v1h-3zM796 533h1v1h-1zM226 534h1v1h-1zM795 534h1v1h-1zM1437 534h2v1h-2zM227 535h2v1h-2zM1439 535h1v1h-1zM525 536h3v1h-3zM531 536h3v1h-3zM537 536h3v1h-3zM543 536h3v1h-3zM549 536h3v1h-3zM555 536h3v1h-3zM561 536h3v1h-3zM567 536h3v1h-3zM573 536h3v1h-3zM579 536h3v1h-3zM585 536h3v1h-3zM591 536h3v1h-3zM597 536h3v1h-3zM603 536h3v1h-3zM609 536h3v1h-3zM615 536h3v1h-3zM621 536h3v1h-3zM627 536h3v1h-3zM633 536h3v1h-3zM639 536h3v1h-3zM645 536h3v1h-3zM651 536h3v1h-3zM657 536h3v1h-3zM663 536h3v1h-3zM669 536h3v1h-3zM675 536h3v1h-3zM681 536h3v1h-3zM687 536h3v1h-3zM693 536h3v1h-3zM699 536h3v1h-3zM705 536h3v1h-3zM711 536h3v1h-3zM717 536h3v1h-3zM723 536h3v1h-3zM729 536h3v1h-3zM735 536h3v1h-3zM741 536h3v1h-3zM747 536h3v1h-3zM753 536h3v1h-3zM759 536h3v1h-3zM765 536h3v1h-3zM771 536h3v1h-3zM777 536h3v1h-3zM783 536h3v1h-3zM789 536h3v1h-3zM1443 536h1v1h-1zM232 537h1v1h-1zM519 537h3v1h-3zM1444 537h2v1h-2zM1449 537h3v1h-3zM1455 537h1v1h-1zM233 538h2v1h-2zM238 538h3v1h-3zM244 538h3v1h-3zM250 538h3v1h-3zM256 538h3v1h-3zM262 538h3v1h-3zM268 538h3v1h-3zM274 538h3v1h-3zM280 538h3v1h-3zM286 538h3v1h-3zM292 538h3v1h-3zM298 538h3v1h-3zM304 538h3v1h-3zM310 538h3v1h-3zM515 538h1v1h-1zM1456 538h2v1h-2zM1461 538h1v1h-1zM513 539h2v1h-2zM1462 539h2v1h-2zM316 540h1v1h-1zM317 541h1v1h-1zM508 541h2v1h-2zM1467 541h1v1h-1zM318 542h1v1h-1zM507 542h1v1h-1zM1468 542h2v1h-2zM1473 542h1v1h-1zM322 543h3v1h-3zM328 543h3v1h-3zM334 543h3v1h-3zM340 543h3v1h-3zM1474 543h2v1h-2zM1479 543h3v1h-3zM1485 543h2v1h-2zM502 544h2v1h-2zM346 545h1v1h-1zM501 545h1v1h-1zM347 546h2v1h-2zM496 546h2v1h-2zM495 547h1v1h-1zM352 548h1v1h-1zM491 548h1v1h-1zM353 549h2v1h-2zM490 549h1v1h-1zM489 550h1v1h-1zM358 551h3v1h-3zM364 552h3v1h-3zM370 552h3v1h-3zM376 552h3v1h-3zM382 552h3v1h-3zM388 552h3v1h-3zM394 552h3v1h-3zM400 552h3v1h-3zM406 552h3v1h-3zM412 552h3v1h-3zM418 552h3v1h-3zM424 552h3v1h-3zM430 552h3v1h-3zM436 552h3v1h-3zM442 552h3v1h-3zM448 552h3v1h-3zM454 552h3v1h-3zM460 552h3v1h-3zM466 552h3v1h-3zM472 552h3v1h-3zM478 552h3v1h-3zM486 553h1v1h-1zM484 554h2v1h-2z"/>
<path fill="#787878" d="M2 531h3v1h-3zM8 531h3v1h-3zM14 531h3v1h-3zM20 531h3v1h-3zM26 531h3v1h-3zM32 531h3v1h-3zM38 532h1v2h-1zM39 534h1v1h-1zM40 538h1v1h-1zM41 539h1v2h-1zM1089 540h3v1h-3zM1095 540h3v1h-3zM1101 540h3v1h-3zM1107 540h3v1h-3zM1113 540h3v1h-3zM1119 540h3v1h-3zM1125 540h3v1h-3zM1131 540h3v1h-3zM1137 540h3v1h-3zM1143 540h3v1h-3zM1149 540h3v1h-3zM1155 540h3v1h-3zM1161 540h3v1h-3zM1167 540h3v1h-3zM1173 540h3v1h-3zM1179 540h3v1h-3zM1185 540h3v1h-3zM1191 540h3v1h-3zM1197 540h3v1h-3zM1084 541h2v1h-2zM1203 541h3v1h-3zM1209 541h2v1h-2zM839 542h1v1h-1zM843 542h3v1h-3zM849 542h3v1h-3zM855 542h3v1h-3zM861 542h3v1h-3zM867 542h3v1h-3zM873 542h3v1h-3zM879 542h3v1h-3zM885 542h3v1h-3zM891 542h3v1h-3zM897 542h3v1h-3zM903 542h3v1h-3zM909 542h3v1h-3zM915 542h3v1h-3zM921 542h3v1h-3zM1083 542h1v1h-1zM1211 542h1v1h-1zM1215 542h2v1h-2zM837 543h2v1h-2zM927 543h1v1h-1zM975 543h3v1h-3zM981 543h3v1h-3zM987 543h3v1h-3zM993 543h3v1h-3zM999 543h3v1h-3zM1005 543h3v1h-3zM1011 543h3v1h-3zM1017 543h3v1h-3zM1023 543h3v1h-3zM1029 543h3v1h-3zM1035 543h3v1h-3zM1041 543h3v1h-3zM1047 543h3v1h-3zM1053 543h3v1h-3zM1059 543h3v1h-3zM1065 543h3v1h-3zM1071 543h3v1h-3zM1077 543h3v1h-3zM1217 543h1v1h-1zM1221 543h3v1h-3zM1227 543h3v1h-3zM1233 543h3v1h-3zM43 544h1v1h-1zM928 544h2v1h-2zM1239 544h3v1h-3zM1245 544h3v1h-3zM1251 544h3v1h-3zM1257 544h1v1h-1zM44 545h1v2h-1zM833 545h1v1h-1zM970 545h2v1h-2zM1258 545h2v1h-2zM1263 545h3v1h-3zM1269 545h3v1h-3zM1275 545h2v1h-2zM831 546h2v1h-2zM933 546h3v1h-3zM939 546h3v1h-3zM945 546h3v1h-3zM951 546h3v1h-3zM957 546h3v1h-3zM963 546h3v1h-3zM969 546h1v1h-1zM1277 546h1v1h-1zM1281 546h3v1h-3zM1287 546h3v1h-3zM1293 546h3v1h-3zM1299 546h3v1h-3zM1305 546h3v1h-3zM1311 546h3v1h-3zM1317 546h3v1h-3zM1323 546h3v1h-3zM1329 546h3v1h-3zM1335 546h3v1h-3zM1341 546h3v1h-3zM1347 546h3v1h-3zM1353 546h1v1h-1zM1354 547h2v1h-2zM826 548h2v1h-2zM825 549h1v1h-1zM1359 549h3v1h-3zM1365 549h3v1h-3zM1371 549h3v1h-3zM1377 549h3v1h-3zM1383 549h3v1h-3zM1389 549h3v1h-3zM1395 549h3v1h-3zM1401 549h3v1h-3zM1407 549h3v1h-3zM1413 549h3v1h-3zM1419 549h3v1h-3zM1425 549h1v1h-1zM47 550h3v1h-3zM53 550h3v1h-3zM59 550h3v1h-3zM65 550h3v1h-3zM71 550h3v1h-3zM77 550h3v1h-3zM83 550h3v1h-3zM89 550h3v1h-3zM95 550h3v1h-3zM101 550h3v1h-3zM107 550h3v1h-3zM113 550h3v1h-3zM119 550h3v1h-3zM125 550h3v1h-3zM131 550h3v1h-3zM137 550h3v1h-3zM143 550h3v1h-3zM149 550h3v1h-3zM155 550h3v1h-3zM161 550h3v1h-3zM167 550h3v1h-3zM173 550h3v1h-3zM179 550h3v1h-3zM185 550h3v1h-3zM191 550h3v1h-3zM197 550h3v1h-3zM203 550h3v1h-3zM209 550h3v1h-3zM215 550h3v1h-3zM221 550h3v1h-3zM821 550h1v1h-1zM1426 550h2v1h-2zM227 551h3v1h-3zM283 551h1v1h-1zM287 551h3v1h-3zM293 551h3v1h-3zM299 551h3v1h-3zM305 551h3v1h-3zM311 551h1v1h-1zM819 551h2v1h-2zM1431 551h1v1h-1zM281 552h2v1h-2zM312 552h1v1h-1zM1432 552h2v1h-2zM233 553h3v1h-3zM239 553h3v1h-3zM245 553h3v1h-3zM251 553h3v1h-3zM257 553h3v1h-3zM263 553h3v1h-3zM269 553h3v1h-3zM275 553h3v1h-3zM313 553h1v1h-1zM815 553h1v1h-1zM813 554h2v1h-2zM1437 554h2v1h-2zM1439 555h1v1h-1zM809 556h1v1h-1zM315 557h1v1h-1zM807 557h2v1h-2zM1443 557h3v1h-3zM316 558h1v1h-1zM1449 558h3v1h-3zM317 559h1v1h-1zM1455 559h3v1h-3zM803 560h1v1h-1zM1461 560h3v1h-3zM802 561h1v2h-1zM1467 561h1v1h-1zM321 562h1v1h-1zM1468 562h2v1h-2zM1473 562h3v1h-3zM1479 562h3v1h-3zM322 563h1v1h-1zM323 564h1v1h-1zM327 565h3v1h-3zM333 565h3v1h-3zM339 565h2v1h-2zM341 566h1v1h-1zM799 566h1v2h-1zM798 568h1v1h-1zM343 570h1v1h-1zM344 571h1v2h-1zM796 572h1v1h-1zM795 573h1v2h-1zM347 576h2v1h-2zM349 577h1v1h-1zM521 578h3v1h-3zM527 578h3v1h-3zM533 578h3v1h-3zM539 578h3v1h-3zM545 578h3v1h-3zM551 578h3v1h-3zM557 578h3v1h-3zM563 578h3v1h-3zM569 578h3v1h-3zM575 578h3v1h-3zM581 578h3v1h-3zM587 578h3v1h-3zM593 578h3v1h-3zM599 578h3v1h-3zM605 578h3v1h-3zM611 578h3v1h-3zM617 578h3v1h-3zM623 578h3v1h-3zM629 578h3v1h-3zM635 578h3v1h-3zM641 578h3v1h-3zM647 578h3v1h-3zM653 578h3v1h-3zM659 578h3v1h-3zM665 578h3v1h-3zM671 578h3v1h-3zM677 578h3v1h-3zM683 578h3v1h-3zM689 578h3v1h-3zM695 578h3v1h-3zM701 578h3v1h-3zM707 578h3v1h-3zM713 578h3v1h-3zM719 578h3v1h-3zM725 578h3v1h-3zM731 578h3v1h-3zM737 578h3v1h-3zM743 578h3v1h-3zM749 578h3v1h-3zM755 578h3v1h-3zM761 578h3v1h-3zM767 578h3v1h-3zM773 578h3v1h-3zM779 578h3v1h-3zM785 578h3v1h-3zM791 578h3v1h-3zM515 579h3v1h-3zM353 580h1v1h-1zM354 581h1v1h-1zM510 581h2v1h-2zM355 582h1v1h-1zM509 582h1v1h-1zM359 583h1v1h-1zM504 583h2v1h-2zM360 584h2v1h-2zM497 584h3v1h-3zM503 584h1v1h-1zM493 585h1v1h-1zM365 586h3v1h-3zM492 586h1v1h-1zM371 587h3v1h-3zM377 587h3v1h-3zM383 587h3v1h-3zM491 587h1v1h-1zM389 588h3v1h-3zM395 588h3v1h-3zM401 588h3v1h-3zM407 588h3v1h-3zM413 588h3v1h-3zM419 588h3v1h-3zM425 588h3v1h-3zM431 588h3v1h-3zM437 588h3v1h-3zM443 588h3v1h-3zM449 588h3v1h-3zM455 588h3v1h-3zM461 588h3v1h-3zM467 588h3v1h-3zM473 588h3v1h-3zM479 588h3v1h-3zM485 588h3v1h-3z"/>
<path fill="#ffa500" d="M1089 555h3v1h-3zM1095 555h3v1h-3zM1101 555h3v1h-3zM1107 555h3v1h-3zM1113 555h3v1h-3zM1119 555h3v1h-3zM1125 555h3v1h-3zM1131 555h3v1h-3zM1137 555h3v1h-3zM1143 555h3v1h-3zM1149 555h3v1h-3zM1155 555h3v1h-3zM1161 555h3v1h-3zM1167 555h3v1h-3zM1173 555h3v1h-3zM1179 555h3v1h-3zM1185 555h2v1h-2zM1083 556h3v1h-3zM1187 556h1v1h-1zM1191 556h3v1h-3zM1197 556h3v1h-3zM1203 556h3v1h-3zM1209 557h1v1h-1zM1079 558h1v1h-1zM1210 558h2v1h-2zM975 559h3v1h-3zM981 559h3v1h-3zM987 559h3v1h-3zM993 559h3v1h-3zM999 559h3v1h-3zM1005 559h3v1h-3zM1011 559h3v1h-3zM1017 559h3v1h-3zM1023 559h3v1h-3zM1029 559h3v1h-3zM1035 559h3v1h-3zM1041 559h3v1h-3zM1047 559h3v1h-3zM1053 559h3v1h-3zM1059 559h3v1h-3zM1065 559h3v1h-3zM1071 559h3v1h-3zM1077 559h2v1h-2zM1215 559h3v1h-3zM1221 559h3v1h-3zM1227 559h1v1h-1zM2 560h3v1h-3zM8 560h3v1h-3zM14 560h3v1h-3zM20 560h3v1h-3zM26 560h3v1h-3zM32 560h3v1h-3zM964 560h2v1h-2zM969 560h3v1h-3zM1228 560h2v1h-2zM1233 560h3v1h-3zM1239 560h1v1h-1zM38 561h2v1h-2zM957 561h3v1h-3zM963 561h1v1h-1zM1240 561h2v1h-2zM1245 561h3v1h-3zM1251 561h3v1h-3zM1257 561h3v1h-3zM1263 561h3v1h-3zM40 562h1v1h-1zM839 562h1v1h-1zM843 562h3v1h-3zM849 562h3v1h-3zM855 562h3v1h-3zM861 562h3v1h-3zM867 562h3v1h-3zM873 562h3v1h-3zM879 562h3v1h-3zM885 562h3v1h-3zM891 562h3v1h-3zM897 562h3v1h-3zM903 562h3v1h-3zM909 562h3v1h-3zM915 562h3v1h-3zM921 562h3v1h-3zM927 562h3v1h-3zM933 562h3v1h-3zM939 562h3v1h-3zM945 562h3v1h-3zM951 562h3v1h-3zM1269 562h3v1h-3zM1275 562h3v1h-3zM1281 562h3v1h-3zM1287 562h3v1h-3zM1293 562h3v1h-3zM1299 562h3v1h-3zM1305 562h3v1h-3zM1311 562h3v1h-3zM1317 562h3v1h-3zM1323 562h3v1h-3zM1329 562h3v1h-3zM1335 562h3v1h-3zM1341 562h3v1h-3zM1347 562h3v1h-3zM1353 562h1v1h-1zM838 563h1v1h-1zM1354 563h1v1h-1zM837 564h1v1h-1zM1355 564h1v1h-1zM44 565h2v1h-2zM285 565h2v1h-2zM290 565h3v1h-3zM296 565h3v1h-3zM302 565h3v1h-3zM308 565h3v1h-3zM46 566h1v1h-1zM284 566h1v1h-1zM50 567h3v1h-3zM56 567h3v1h-3zM62 567h3v1h-3zM68 567h3v1h-3zM74 567h3v1h-3zM80 567h3v1h-3zM86 567h3v1h-3zM92 567h3v1h-3zM98 567h3v1h-3zM104 567h3v1h-3zM110 567h3v1h-3zM116 567h3v1h-3zM122 567h3v1h-3zM128 567h3v1h-3zM134 567h3v1h-3zM140 567h3v1h-3zM146 567h3v1h-3zM152 567h3v1h-3zM158 567h3v1h-3zM164 567h3v1h-3zM170 567h3v1h-3zM176 567h3v1h-3zM182 567h3v1h-3zM188 567h3v1h-3zM194 567h3v1h-3zM200 567h3v1h-3zM206 567h3v1h-3zM212 567h3v1h-3zM218 567h3v1h-3zM224 567h3v1h-3zM1359 567h3v1h-3zM1365 567h3v1h-3zM1371 567h3v1h-3zM1377 567h3v1h-3zM1383 567h3v1h-3zM1389 567h3v1h-3zM1395 567h3v1h-3zM1401 567h3v1h-3zM1407 567h3v1h-3zM1413 567h3v1h-3zM1419 567h3v1h-3zM1425 567h1v1h-1zM230 568h2v1h-2zM280 568h1v1h-1zM314 568h1v1h-1zM834 568h1v1h-1zM1426 568h2v1h-2zM232 569h1v1h-1zM236 569h3v1h-3zM242 569h3v1h-3zM248 569h3v1h-3zM254 569h3v1h-3zM260 569h3v1h-3zM266 569h3v1h-3zM272 569h3v1h-3zM278 569h2v1h-2zM315 569h1v1h-1zM833 569h1v1h-1zM316 570h1v1h-1zM832 570h1v1h-1zM1431 570h1v1h-1zM1432 571h1v1h-1zM827 572h2v1h-2zM1433 572h1v1h-1zM826 573h1v1h-1zM317 574h1v1h-1zM1437 574h1v1h-1zM318 575h1v2h-1zM821 575h2v1h-2zM1438 575h2v1h-2zM820 576h1v1h-1zM1443 578h2v1h-2zM816 579h1v1h-1zM1445 579h1v1h-1zM1449 579h3v1h-3zM1455 579h2v1h-2zM319 580h1v1h-1zM815 580h1v1h-1zM1457 580h1v1h-1zM1461 580h3v1h-3zM1467 580h3v1h-3zM1473 580h3v1h-3zM320 581h1v2h-1zM814 581h1v1h-1zM1479 581h3v1h-3zM1485 581h2v1h-2zM324 585h1v1h-1zM810 585h1v1h-1zM325 586h2v1h-2zM809 586h1v1h-1zM330 587h3v1h-3zM336 587h3v1h-3zM808 587h1v1h-1zM342 588h1v1h-1zM343 589h1v2h-1zM804 591h1v2h-1zM803 593h1v1h-1zM344 594h1v1h-1zM345 595h1v2h-1zM800 597h1v3h-1zM348 600h1v1h-1zM349 601h1v1h-1zM350 602h1v1h-1zM798 603h1v2h-1zM797 605h1v1h-1zM353 606h1v1h-1zM354 607h1v1h-1zM355 608h1v1h-1zM797 609h1v3h-1zM359 612h1v1h-1zM360 613h1v2h-1zM796 615h1v1h-1zM795 616h1v1h-1zM794 617h1v1h-1zM363 618h1v1h-1zM364 619h2v1h-2zM519 620h3v1h-3zM525 620h3v1h-3zM531 620h3v1h-3zM537 620h3v1h-3zM543 620h3v1h-3zM549 620h3v1h-3zM555 620h3v1h-3zM561 620h3v1h-3zM567 620h3v1h-3zM573 620h3v1h-3zM579 620h3v1h-3zM585 620h3v1h-3zM591 620h3v1h-3zM597 620h3v1h-3zM603 620h3v1h-3zM609 620h3v1h-3zM615 620h3v1h-3zM621 620h3v1h-3zM627 620h3v1h-3zM633 620h3v1h-3zM639 620h3v1h-3zM645 620h3v1h-3zM651 620h3v1h-3zM657 620h3v1h-3zM663 620h3v1h-3zM669 620h3v1h-3zM675 620h3v1h-3zM681 620h3v1h-3zM687 620h3v1h-3zM693 620h3v1h-3zM699 620h3v1h-3zM705 620h3v1h-3zM711 620h3v1h-3zM717 620h3v1h-3zM723 620h3v1h-3zM729 620h3v1h-3zM735 620h3v1h-3zM741 620h3v1h-3zM747 620h3v1h-3zM753 620h3v1h-3zM759 620h3v1h-3zM765 620h3v1h-3zM771 620h3v1h-3zM777 620h3v1h-3zM783 620h3v1h-3zM789 620h3v1h-3zM369 621h3v1h-3zM375 621h3v1h-3zM381 621h3v1h-3zM509 621h1v1h-1zM513 621h3v1h-3zM507 622h2v1h-2zM387 623h3v1h-3zM495 623h3v1h-3zM501 623h3v1h-3zM393 624h3v1h-3zM399 624h3v1h-3zM405 624h3v1h-3zM411 624h3v1h-3zM417 624h3v1h-3zM423 624h3v1h-3zM429 624h3v1h-3zM435 624h3v1h-3zM441 624h3v1h-3zM447 624h3v1h-3zM453 624h3v1h-3zM459 624h3v1h-3zM465 624h3v1h-3zM471 624h3v1h-3zM477 624h3v1h-3zM483 624h2v1h-2zM489 624h3v1h-3zM485 625h1v1h-1z"/>
</g>
<path shape-rendering="crispEdges" fill="#32cd32" d="M519 508h12v1h-12zM517 509h15v1h-15zM515 510h5v1h-5zM530 510h2v1h-2zM514 511h4v1h-4zM530 511h3v1h-3zM512 512h4v1h-4zM531 512h2v1h-2zM511 513h4v1h-4zM531 513h3v1h-3zM509 514h4v1h-4zM532 514h3v1h-3zM508 515h4v1h-4zM533 515h2v2h-2zM507 516h3v1h-3zM873 516h6v1h-6zM506 517h3v1h-3zM533 517h3v1h-3zM870 517h10v1h-10zM504 518h4v1h-4zM534 518h3v1h-3zM869 518h5v1h-5zM878 518h3v1h-3zM1029 518h7v1h-7zM503 519h4v1h-4zM535 519h2v1h-2zM868 519h3v1h-3zM879 519h3v1h-3zM1025 519h15v1h-15zM501 520h4v1h-4zM535 520h3v1h-3zM866 520h4v1h-4zM880 520h4v1h-4zM1024 520h6v1h-6zM1035 520h8v1h-8zM498 521h6v1h-6zM536 521h2v1h-2zM865 521h4v1h-4zM881 521h4v1h-4zM1024 521h2v1h-2zM1039 521h6v1h-6zM496 522h6v1h-6zM536 522h3v1h-3zM865 522h2v1h-2zM883 522h2v1h-2zM1023 522h3v1h-3zM1042 522h5v1h-5zM494 523h5v1h-5zM537 523h2v1h-2zM864 523h3v1h-3zM883 523h3v1h-3zM1022 523h3v1h-3zM1044 523h19v1h-19zM492 524h5v1h-5zM537 524h3v1h-3zM863 524h3v1h-3zM884 524h3v1h-3zM1021 524h3v1h-3zM1046 524h20v1h-20zM490 525h5v1h-5zM538 525h3v1h-3zM862 525h3v1h-3zM885 525h2v1h-2zM1020 525h3v1h-3zM1062 525h5v1h-5zM489 526h4v1h-4zM539 526h2v1h-2zM861 526h3v1h-3zM885 526h3v1h-3zM1019 526h3v1h-3zM1065 526h4v1h-4zM488 527h3v1h-3zM539 527h3v1h-3zM860 527h3v1h-3zM886 527h2v2h-2zM1019 527h2v1h-2zM1066 527h4v1h-4zM72 528h16v1h-16zM487 528h3v1h-3zM540 528h3v1h-3zM859 528h3v1h-3zM1018 528h3v1h-3zM1068 528h4v1h-4zM70 529h20v1h-20zM487 529h2v1h-2zM541 529h2v1h-2zM859 529h2v1h-2zM886 529h3v1h-3zM1017 529h3v1h-3zM1069 529h4v1h-4zM1321 529h12v1h-12zM68 530h5v1h-5zM87 530h4v1h-4zM486 530h3v1h-3zM541 530h3v1h-3zM858 530h3v1h-3zM887 530h2v2h-2zM1016 530h3v1h-3zM1071 530h2v1h-2zM1319 530h16v1h-16zM65 531h6v1h-6zM89 531h3v1h-3zM486 531h2v1h-2zM542 531h3v1h-3zM847 531h13v1h-13zM1014 531h4v1h-4zM1071 531h3v1h-3zM1305 531h17v1h-17zM1332 531h4v1h-4zM63 532h6v1h-6zM90 532h3v1h-3zM485 532h3v1h-3zM543 532h2v1h-2zM840 532h19v1h-19zM887 532h3v1h-3zM1013 532h4v1h-4zM1072 532h2v1h-2zM1302 532h18v1h-18zM1334 532h3v1h-3zM61 533h5v1h-5zM91 533h3v1h-3zM484 533h3v1h-3zM543 533h3v1h-3zM839 533h9v1h-9zM888 533h2v1h-2zM1012 533h3v1h-3zM1072 533h3v1h-3zM1299 533h7v1h-7zM1335 533h3v1h-3zM60 534h4v1h-4zM92 534h4v1h-4zM484 534h2v1h-2zM544 534h2v1h-2zM838 534h3v1h-3zM888 534h3v1h-3zM1011 534h3v1h-3zM1073 534h2v1h-2zM1296 534h7v1h-7zM1336 534h2v1h-2zM58 535h4v1h-4zM93 535h4v1h-4zM483 535h3v1h-3zM544 535h3v1h-3zM837 535h3v1h-3zM889 535h2v1h-2zM1010 535h3v1h-3zM1073 535h3v1h-3zM1293 535h7v1h-7zM1336 535h3v1h-3zM56 536h5v1h-5zM95 536h3v1h-3zM482 536h3v1h-3zM545 536h3v1h-3zM617 536h4v1h-4zM836 536h3v1h-3zM889 536h3v1h-3zM1009 536h3v1h-3zM1074 536h3v1h-3zM1291 536h6v1h-6zM1337 536h2v3h-2zM55 537h4v1h-4zM96 537h3v1h-3zM222 537h16v1h-16zM482 537h2v1h-2zM546 537h3v1h-3zM616 537h7v1h-7zM835 537h3v1h-3zM890 537h2v2h-2zM1009 537h2v1h-2zM1075 537h3v1h-3zM1289 537h5v1h-5zM53 538h4v1h-4zM97 538h3v1h-3zM216 538h36v1h-36zM481 538h3v1h-3zM547 538h2v1h-2zM615 538h3v1h-3zM620 538h4v1h-4zM834 538h3v1h-3zM1008 538h3v1h-3zM1076 538h2v1h-2zM1287 538h5v1h-5zM51 539h5v1h-5zM98 539h2v1h-2zM213 539h10v1h-10zM237 539h17v1h-17zM481 539h2v1h-2zM547 539h3v1h-3zM614 539h3v1h-3zM622 539h3v1h-3zM833 539h3v1h-3zM890 539h3v1h-3zM1007 539h3v1h-3zM1076 539h3v1h-3zM1285 539h5v1h-5zM1337 539h3v1h-3zM47 540h7v1h-7zM98 540h3v1h-3zM212 540h5v1h-5zM251 540h4v1h-4zM480 540h3v1h-3zM548 540h2v1h-2zM614 540h2v1h-2zM623 540h2v1h-2zM832 540h3v1h-3zM891 540h2v1h-2zM1006 540h3v1h-3zM1077 540h3v1h-3zM1283 540h5v1h-5zM1338 540h2v2h-2zM43 541h9v1h-9zM99 541h3v1h-3zM210 541h4v1h-4zM253 541h4v1h-4zM480 541h2v1h-2zM548 541h3v1h-3zM613 541h3v1h-3zM623 541h3v1h-3zM832 541h2v1h-2zM891 541h3v1h-3zM1005 541h3v1h-3zM1078 541h2v1h-2zM1281 541h5v1h-5zM40 542h8v1h-8zM100 542h3v1h-3zM208 542h5v1h-5zM254 542h4v1h-4zM479 542h3v1h-3zM549 542h2v1h-2zM613 542h2v1h-2zM624 542h3v1h-3zM831 542h3v1h-3zM892 542h3v1h-3zM1004 542h3v1h-3zM1078 542h3v1h-3zM1280 542h4v1h-4zM1338 542h3v1h-3zM18 543h6v1h-6zM39 543h5v1h-5zM101 543h3v1h-3zM207 543h4v1h-4zM256 543h3v1h-3zM479 543h2v1h-2zM549 543h3v1h-3zM612 543h3v1h-3zM625 543h2v1h-2zM831 543h2v1h-2zM893 543h3v1h-3zM1002 543h4v1h-4zM1079 543h3v1h-3zM1105 543h6v1h-6zM1277 543h5v1h-5zM1339 543h2v4h-2zM1481 543h6v1h-6zM17 544h9v1h-9zM38 544h3v1h-3zM102 544h3v1h-3zM205 544h4v1h-4zM257 544h3v1h-3zM478 544h3v1h-3zM550 544h2v2h-2zM612 544h2v1h-2zM625 544h3v1h-3zM830 544h3v1h-3zM894 544h3v1h-3zM1000 544h5v1h-5zM1080 544h3v1h-3zM1102 544h11v1h-11zM1272 544h9v1h-9zM1479 544h8v1h-8zM16 545h3v1h-3zM23 545h5v1h-5zM36 545h4v1h-4zM103 545h2v1h-2zM204 545h4v1h-4zM258 545h3v1h-3zM478 545h2v1h-2zM611 545h3v1h-3zM626 545h2v1h-2zM830 545h2v1h-2zM895 545h2v1h-2zM997 545h6v1h-6zM1081 545h3v1h-3zM1100 545h6v1h-6zM1110 545h5v1h-5zM1268 545h10v1h-10zM1476 545h6v1h-6zM15 546h3v1h-3zM25 546h5v1h-5zM33 546h6v1h-6zM103 546h4v1h-4zM204 546h2v1h-2zM259 546h2v1h-2zM477 546h3v1h-3zM550 546h3v1h-3zM611 546h2v1h-2zM626 546h3v1h-3zM829 546h3v1h-3zM895 546h4v1h-4zM995 546h6v1h-6zM1082 546h2v1h-2zM1098 546h5v1h-5zM1112 546h6v1h-6zM1263 546h10v1h-10zM1474 546h6v1h-6zM13 547h4v1h-4zM27 547h10v1h-10zM104 547h4v1h-4zM203 547h3v1h-3zM259 547h3v1h-3zM476 547h3v1h-3zM551 547h2v2h-2zM610 547h3v1h-3zM627 547h3v1h-3zM829 547h2v1h-2zM896 547h11v1h-11zM993 547h5v1h-5zM1082 547h19v1h-19zM1114 547h6v1h-6zM1259 547h10v1h-10zM1339 547h3v1h-3zM1473 547h4v1h-4zM12 548h4v1h-4zM29 548h5v1h-5zM106 548h4v1h-4zM202 548h3v1h-3zM260 548h3v1h-3zM476 548h2v1h-2zM610 548h2v1h-2zM628 548h4v1h-4zM828 548h3v1h-3zM898 548h13v1h-13zM992 548h4v1h-4zM1083 548h16v1h-16zM1117 548h8v1h-8zM1258 548h6v1h-6zM1340 548h2v3h-2zM1472 548h3v1h-3zM11 549h3v1h-3zM107 549h4v1h-4zM201 549h3v1h-3zM261 549h2v1h-2zM475 549h3v1h-3zM551 549h3v1h-3zM609 549h3v1h-3zM629 549h4v1h-4zM828 549h2v1h-2zM906 549h8v1h-8zM990 549h4v1h-4zM1119 549h24v1h-24zM1258 549h2v1h-2zM1471 549h3v1h-3zM10 550h3v1h-3zM109 550h3v1h-3zM201 550h2v1h-2zM261 550h3v1h-3zM276 550h6v1h-6zM475 550h2v1h-2zM552 550h2v2h-2zM609 550h2v1h-2zM631 550h2v1h-2zM827 550h3v1h-3zM910 550h6v1h-6zM988 550h5v1h-5zM1124 550h23v1h-23zM1256 550h4v1h-4zM1470 550h3v1h-3zM9 551h3v1h-3zM110 551h4v1h-4zM200 551h3v1h-3zM262 551h21v1h-21zM474 551h3v1h-3zM608 551h3v1h-3zM631 551h3v1h-3zM827 551h2v2h-2zM913 551h5v1h-5zM986 551h5v1h-5zM1142 551h9v1h-9zM1255 551h4v1h-4zM1340 551h3v1h-3zM1469 551h3v1h-3zM7 552h4v1h-4zM111 552h19v1h-19zM199 552h3v1h-3zM263 552h14v1h-14zM281 552h3v1h-3zM473 552h3v1h-3zM552 552h3v1h-3zM607 552h3v1h-3zM632 552h4v1h-4zM736 552h2v1h-2zM915 552h5v1h-5zM984 552h5v1h-5zM1146 552h6v1h-6zM1186 552h7v1h-7zM1254 552h3v1h-3zM1341 552h2v2h-2zM1468 552h3v1h-3zM5 553h5v1h-5zM113 553h20v1h-20zM198 553h3v1h-3zM282 553h4v1h-4zM473 553h2v1h-2zM553 553h2v2h-2zM607 553h2v1h-2zM633 553h4v1h-4zM733 553h12v1h-12zM826 553h3v1h-3zM917 553h5v1h-5zM983 553h4v1h-4zM1150 553h3v1h-3zM1185 553h9v1h-9zM1254 553h2v1h-2zM1468 553h2v1h-2zM3 554h5v1h-5zM129 554h8v1h-8zM197 554h3v1h-3zM283 554h4v1h-4zM472 554h3v1h-3zM606 554h3v1h-3zM635 554h3v1h-3zM712 554h34v1h-34zM825 554h3v1h-3zM919 554h5v1h-5zM981 554h4v1h-4zM1151 554h3v1h-3zM1183 554h4v1h-4zM1192 554h3v1h-3zM1253 554h3v1h-3zM1341 554h3v1h-3zM1467 554h3v1h-3zM1 555h5v1h-5zM132 555h8v1h-8zM196 555h3v1h-3zM285 555h3v1h-3zM471 555h3v1h-3zM553 555h3v1h-3zM606 555h2v2h-2zM636 555h3v1h-3zM710 555h24v1h-24zM744 555h3v1h-3zM825 555h2v1h-2zM921 555h6v1h-6zM979 555h5v1h-5zM1152 555h3v1h-3zM1182 555h4v1h-4zM1193 555h3v1h-3zM1253 555h2v1h-2zM1342 555h2v1h-2zM1467 555h2v1h-2zM1 556h3v1h-3zM136 556h6v1h-6zM196 556h2v1h-2zM286 556h2v1h-2zM470 556h3v1h-3zM554 556h2v2h-2zM637 556h4v1h-4zM708 556h5v1h-5zM745 556h4v1h-4zM794 556h9v1h-9zM824 556h3v1h-3zM923 556h6v1h-6zM977 556h5v1h-5zM1153 556h4v1h-4zM1181 556h3v1h-3zM1194 556h3v1h-3zM1252 556h3v1h-3zM1342 556h3v1h-3zM1466 556h3v1h-3zM139 557h5v1h-5zM195 557h3v1h-3zM286 557h3v1h-3zM468 557h4v1h-4zM605 557h3v1h-3zM638 557h8v1h-8zM704 557h7v1h-7zM746 557h4v1h-4zM788 557h18v1h-18zM823 557h3v1h-3zM926 557h6v1h-6zM975 557h5v1h-5zM1154 557h4v1h-4zM1181 557h2v1h-2zM1195 557h4v1h-4zM1252 557h2v1h-2zM1343 557h2v1h-2zM1466 557h2v1h-2zM141 558h6v1h-6zM194 558h3v1h-3zM287 558h3v1h-3zM466 558h5v1h-5zM554 558h3v1h-3zM603 558h4v1h-4zM640 558h10v1h-10zM700 558h9v1h-9zM748 558h3v1h-3zM784 558h11v1h-11zM802 558h7v1h-7zM822 558h3v1h-3zM928 558h11v1h-11zM974 558h4v1h-4zM1156 558h3v1h-3zM1180 558h3v1h-3zM1196 558h4v1h-4zM1251 558h3v1h-3zM1343 558h3v1h-3zM1465 558h3v1h-3zM143 559h6v1h-6zM193 559h3v1h-3zM288 559h2v1h-2zM464 559h5v1h-5zM555 559h2v1h-2zM602 559h4v1h-4zM645 559h9v1h-9zM698 559h7v1h-7zM749 559h4v1h-4zM782 559h7v1h-7zM805 559h6v1h-6zM822 559h2v1h-2zM931 559h16v1h-16zM972 559h4v1h-4zM1157 559h3v1h-3zM1179 559h3v1h-3zM1198 559h3v1h-3zM1250 559h3v1h-3zM1344 559h2v1h-2zM1465 559h2v1h-2zM146 560h5v1h-5zM192 560h3v1h-3zM288 560h3v1h-3zM461 560h6v1h-6zM555 560h3v1h-3zM601 560h3v1h-3zM649 560h9v1h-9zM696 560h5v1h-5zM750 560h5v1h-5zM779 560h6v1h-6zM808 560h16v1h-16zM938 560h12v1h-12zM970 560h5v1h-5zM1158 560h3v1h-3zM1179 560h2v1h-2zM1199 560h2v1h-2zM1250 560h2v1h-2zM1344 560h3v1h-3zM1464 560h3v1h-3zM148 561h6v1h-6zM191 561h3v1h-3zM289 561h3v1h-3zM459 561h6v1h-6zM556 561h2v1h-2zM596 561h7v1h-7zM653 561h7v1h-7zM695 561h4v1h-4zM752 561h5v1h-5zM777 561h6v1h-6zM810 561h13v1h-13zM946 561h6v1h-6zM969 561h4v1h-4zM1159 561h4v1h-4zM1178 561h3v1h-3zM1199 561h3v1h-3zM1249 561h3v1h-3zM1345 561h2v1h-2zM1464 561h2v1h-2zM150 562h8v1h-8zM189 562h4v1h-4zM290 562h3v1h-3zM457 562h5v1h-5zM556 562h3v1h-3zM593 562h9v1h-9zM657 562h5v1h-5zM694 562h3v1h-3zM754 562h9v1h-9zM775 562h5v1h-5zM949 562h6v1h-6zM968 562h3v1h-3zM1160 562h4v1h-4zM1178 562h2v1h-2zM1200 562h3v1h-3zM1249 562h2v1h-2zM1345 562h3v1h-3zM1463 562h3v1h-3zM153 563h8v1h-8zM187 563h5v1h-5zM291 563h3v1h-3zM455 563h5v1h-5zM557 563h2v2h-2zM591 563h6v1h-6zM659 563h5v1h-5zM692 563h4v1h-4zM756 563h22v1h-22zM951 563h6v1h-6zM966 563h4v1h-4zM1162 563h3v1h-3zM1177 563h3v1h-3zM1201 563h3v1h-3zM1248 563h3v1h-3zM1346 563h3v1h-3zM1463 563h2v2h-2zM157 564h7v1h-7zM185 564h5v1h-5zM292 564h3v1h-3zM453 564h5v1h-5zM589 564h5v1h-5zM661 564h5v1h-5zM690 564h5v1h-5zM762 564h14v1h-14zM954 564h15v1h-15zM1163 564h3v1h-3zM1177 564h2v1h-2zM1202 564h3v1h-3zM1248 564h2v1h-2zM1347 564h3v1h-3zM160 565h28v1h-28zM293 565h4v1h-4zM451 565h5v1h-5zM557 565h3v1h-3zM587 565h5v1h-5zM663 565h5v1h-5zM689 565h4v1h-4zM956 565h11v1h-11zM1164 565h15v1h-15zM1203 565h3v1h-3zM1247 565h3v1h-3zM1348 565h3v1h-3zM1402 565h4v1h-4zM1462 565h3v1h-3zM163 566h23v1h-23zM294 566h4v1h-4zM449 566h5v1h-5zM558 566h2v1h-2zM585 566h5v1h-5zM665 566h6v1h-6zM685 566h6v1h-6zM1165 566h13v1h-13zM1204 566h2v1h-2zM1247 566h2v1h-2zM1349 566h3v1h-3zM1401 566h7v1h-7zM1462 566h2v2h-2zM296 567h3v1h-3zM448 567h4v1h-4zM558 567h3v1h-3zM583 567h5v1h-5zM667 567h6v1h-6zM682 567h8v1h-8zM1204 567h5v1h-5zM1229 567h5v1h-5zM1246 567h3v1h-3zM1350 567h4v1h-4zM1400 567h3v1h-3zM1405 567h5v1h-5zM297 568h3v1h-3zM448 568h2v1h-2zM559 568h2v1h-2zM581 568h5v1h-5zM670 568h16v1h-16zM1205 568h30v1h-30zM1246 568h2v1h-2zM1351 568h4v1h-4zM1399 568h3v1h-3zM1407 568h5v1h-5zM1461 568h3v1h-3zM298 569h4v1h-4zM446 569h4v1h-4zM559 569h3v1h-3zM580 569h4v1h-4zM672 569h11v1h-11zM1208 569h22v1h-22zM1233 569h3v1h-3zM1245 569h3v1h-3zM1353 569h2v2h-2zM1398 569h3v1h-3zM1409 569h5v1h-5zM1461 569h2v3h-2zM299 570h4v1h-4zM445 570h4v1h-4zM560 570h2v1h-2zM578 570h4v1h-4zM1234 570h4v1h-4zM1245 570h2v2h-2zM1397 570h3v1h-3zM1411 570h4v1h-4zM301 571h3v1h-3zM444 571h3v1h-3zM560 571h3v1h-3zM577 571h4v1h-4zM1235 571h5v1h-5zM1353 571h3v1h-3zM1396 571h3v1h-3zM1413 571h3v1h-3zM302 572h4v1h-4zM443 572h3v1h-3zM561 572h2v1h-2zM575 572h4v1h-4zM1237 572h10v1h-10zM1354 572h2v1h-2zM1395 572h3v1h-3zM1414 572h2v1h-2zM1460 572h3v1h-3zM303 573h4v1h-4zM443 573h2v1h-2zM561 573h4v1h-4zM573 573h5v1h-5zM1239 573h7v1h-7zM1354 573h3v1h-3zM1373 573h6v1h-6zM1394 573h3v1h-3zM1414 573h4v1h-4zM1460 573h2v3h-2zM305 574h5v1h-5zM442 574h3v1h-3zM562 574h14v1h-14zM1355 574h2v2h-2zM1370 574h12v1h-12zM1394 574h2v1h-2zM1415 574h4v1h-4zM306 575h8v1h-8zM441 575h3v1h-3zM564 575h10v1h-10zM1369 575h5v1h-5zM1378 575h18v1h-18zM1417 575h3v1h-3zM309 576h6v1h-6zM441 576h2v1h-2zM1355 576h3v1h-3zM1368 576h3v1h-3zM1381 576h14v1h-14zM1418 576h3v1h-3zM1459 576h3v1h-3zM313 577h2v1h-2zM440 577h3v1h-3zM1356 577h2v1h-2zM1367 577h3v1h-3zM1419 577h3v1h-3zM1459 577h2v6h-2zM313 578h3v1h-3zM439 578h3v1h-3zM1356 578h3v1h-3zM1366 578h3v1h-3zM1420 578h3v1h-3zM314 579h2v2h-2zM439 579h2v1h-2zM1357 579h11v1h-11zM1421 579h3v1h-3zM437 580h4v1h-4zM1358 580h9v1h-9zM1422 580h5v1h-5zM314 581h3v1h-3zM436 581h4v1h-4zM1423 581h6v1h-6zM315 582h2v3h-2zM436 582h2v1h-2zM1426 582h5v1h-5zM435 583h3v1h-3zM1428 583h4v1h-4zM1458 583h3v1h-3zM434 584h3v1h-3zM1430 584h4v1h-4zM1458 584h2v6h-2zM315 585h3v1h-3zM434 585h2v1h-2zM1431 585h4v1h-4zM316 586h2v1h-2zM433 586h3v1h-3zM1433 586h2v1h-2zM316 587h3v1h-3zM432 587h3v1h-3zM1433 587h5v1h-5zM317 588h2v1h-2zM432 588h2v1h-2zM1434 588h8v1h-8zM317 589h3v1h-3zM431 589h3v1h-3zM1437 589h6v1h-6zM318 590h2v1h-2zM336 590h4v1h-4zM428 590h5v1h-5zM1441 590h3v1h-3zM1456 590h4v1h-4zM318 591h3v1h-3zM335 591h6v1h-6zM426 591h6v1h-6zM1442 591h3v1h-3zM1454 591h5v1h-5zM319 592h2v2h-2zM334 592h3v1h-3zM339 592h3v1h-3zM424 592h5v1h-5zM1443 592h14v1h-14zM333 593h3v1h-3zM340 593h3v1h-3zM423 593h4v1h-4zM1444 593h11v1h-11zM319 594h3v1h-3zM331 594h4v1h-4zM341 594h2v2h-2zM422 594h3v1h-3zM320 595h2v1h-2zM330 595h4v1h-4zM421 595h3v1h-3zM320 596h3v1h-3zM329 596h3v1h-3zM341 596h3v1h-3zM420 596h3v1h-3zM321 597h2v1h-2zM328 597h3v1h-3zM342 597h2v4h-2zM418 597h4v1h-4zM321 598h3v1h-3zM326 598h4v1h-4zM417 598h4v1h-4zM322 599h7v1h-7zM416 599h3v1h-3zM323 600h4v1h-4zM415 600h3v1h-3zM325 601h2v1h-2zM342 601h3v1h-3zM415 601h2v1h-2zM343 602h2v4h-2zM414 602h3v1h-3zM413 603h3v1h-3zM412 604h3v1h-3zM411 605h3v1h-3zM343 606h3v1h-3zM411 606h2v1h-2zM344 607h2v3h-2zM410 607h3v1h-3zM409 608h3v1h-3zM408 609h3v1h-3zM344 610h3v1h-3zM407 610h3v1h-3zM345 611h2v4h-2zM407 611h2v1h-2zM406 612h3v1h-3zM406 613h2v1h-2zM405 614h3v1h-3zM345 615h3v1h-3zM404 615h3v1h-3zM346 616h2v2h-2zM404 616h2v1h-2zM403 617h3v1h-3zM346 618h3v1h-3zM403 618h2v3h-2zM347 619h3v1h-3zM348 620h2v1h-2zM348 621h3v1h-3zM402 621h3v1h-3zM349 622h2v1h-2zM402 622h2v2h-2zM349 623h3v1h-3zM350 624h2v1h-2zM401 624h3v1h-3zM350 625h3v1h-3zM401 625h2v4h-2zM351 626h3v1h-3zM352 627h3v1h-3zM353 628h3v1h-3zM354 629h3v1h-3zM400 629h3v1h-3zM355 630h3v1h-3zM400 630h2v3h-2zM356 631h3v1h-3zM357 632h2v1h-2zM379 632h4v1h-4zM357 633h3v1h-3zM378 633h6v1h-6zM399 633h3v1h-3zM358 634h2v1h-2zM377 634h3v1h-3zM382 634h2v1h-2zM399 634h2v6h-2zM358 635h3v1h-3zM376 635h3v1h-3zM382 635h3v1h-3zM359 636h2v1h-2zM375 636h3v1h-3zM383 636h3v1h-3zM359 637h3v1h-3zM374 637h3v1h-3zM384 637h3v1h-3zM360 638h2v1h-2zM374 638h2v1h-2zM385 638h2v1h-2zM360 639h3v1h-3zM373 639h3v1h-3zM385 639h3v1h-3zM361 640h3v1h-3zM372 640h3v1h-3zM386 640h2v1h-2zM398 640h3v1h-3zM362 641h3v1h-3zM371 641h3v1h-3zM386 641h3v1h-3zM398 641h2v5h-2zM363 642h3v1h-3zM371 642h2v1h-2zM387 642h3v1h-3zM364 643h3v1h-3zM370 643h3v1h-3zM388 643h3v1h-3zM365 644h7v1h-7zM389 644h3v1h-3zM366 645h5v1h-5zM390 645h3v1h-3zM391 646h9v1h-9zM392 647h7v1h-7z"/>
<path shape-rendering="crispEdges" fill="#ffffff" d="M1 1h1513v1h-1513zM1 1h1v492h-1zM1 492h1513v1h-1513zM1513 1h1v656h-1zM1 494h1513v1h-1513zM1 494h1v163h-1zM1 656h1513v1h-1513zM1514 32h2v1h-2zM1514 81h2v1h-2zM1514 130h2v1h-2zM1514 179h2v1h-2zM1514 228h2v1h-2zM1514 277h2v1h-2zM1514 326h2v1h-2zM1514 375h2v1h-2zM1514 424h2v1h-2zM1514 473h2v1h-2zM1514 496h1v1h-1zM1514 655h1v1h-1zM2 657h1v3h-1zM98 657h1v3h-1zM194 657h1v3h-1zM290 657h1v3h-1zM386 657h1v3h-1zM482 657h1v3h-1zM578 657h1v3h-1zM674 657h1v3h-1zM770 657h1v3h-1zM866 657h1v3h-1zM962 657h1v3h-1zM1058 657h1v3h-1zM1154 657h1v3h-1zM1250 657h1v3h-1zM1346 657h1v3h-1zM1442 657h1v3h-1z"/>
<path fill="#fff" d="M4.7 8.8h9.8l-4.9 5.5z"/>
<path fill="#fff" stroke="#000" stroke-width="1" stroke-linejoin="miter" d="M49.5 60.5v16.3l3.8-3.6 2.8 6.1 2.5-1.1-2.7-6h5.3z"/>
</svg>
<div style="position:absolute;left:0px;top:680px;width:1586px;height:2px;background:#fff"></div>
<div style="position:absolute;left:1584px;top:0px;width:2px;height:682px;background:#fff"></div>
<div style="position:absolute;left:0px;top:682px;width:1586px;height:1px;background:#000"></div>
<div style="position:absolute;left:0px;top:683px;width:1585px;height:24px;background:#f0f0f0"></div>
<div style="position:absolute;left:1585px;top:683px;width:1px;height:34px;background:#fff"></div>
<div style="position:absolute;left:0px;top:707px;width:1585px;height:1px;background:#fff"></div>
<div style="position:absolute;left:0px;top:708px;width:1585px;height:4px;background:#f0f0f0"></div>
<div style="position:absolute;left:0px;top:712px;width:1581px;height:1px;background:#a0a0a0"></div>
<div style="position:absolute;left:1581px;top:712px;width:4px;height:5px;background:#f4f4f4"></div>
<div style="position:absolute;left:0px;top:713px;width:1558px;height:4px;background:#fff"></div>
<div style="position:absolute;left:1558px;top:713px;width:1px;height:4px;background:#f8f8f8"></div>
<div style="position:absolute;left:1559px;top:713px;width:22px;height:4px;background:#f0f0f0"></div>
<div style="position:absolute;left:1586px;top:0px;width:1px;height:717px;background:#6e6e6e"></div>
<div style="position:absolute;left:1587px;top:0px;width:2px;height:717px;background:#cdcdcd"></div>
<div style="position:absolute;left:445px;top:680px;width:98px;height:25px;background:#fff"></div>
<div style="position:absolute;left:444px;top:682px;width:1px;height:24px;background:#000"></div>
<div style="position:absolute;left:543px;top:682px;width:1px;height:24px;background:#000"></div>
<div style="position:absolute;left:444px;top:705px;width:100px;height:1px;background:#000"></div>
<div style="position:absolute;left:443px;top:683px;width:1px;height:23px;background:#f8f8f8"></div>
<div class="sep" style="left:104px"></div>
<div class="sep" style="left:220px"></div>
<div class="sep" style="left:328px"></div>
<div class="sep" style="left:652px"></div>
<div class="sep" style="left:760px"></div>
<div class="sep" style="left:876px"></div>
<div class="sep" style="left:976px"></div>
<div class="sep" style="left:1112px"></div>
<div class="sep" style="left:1228px"></div>
<div class="sep" style="left:1336px"></div>
<span class="t tab" style="left:18px;letter-spacing:-1.099px">GBPJPY,M1</span>
<span class="t tab" style="left:118.3px;letter-spacing:-0.239px">EURUSD,M30</span>
<span class="t tab" style="left:234.1px;letter-spacing:-0.396px">GBPUSD,M1</span>
<span class="t tab" style="left:342.4px;letter-spacing:-0.328px">EURUSD,M15</span>
<span class="t tab" style="left:458.2px;color:#000;letter-spacing:-0.059px">GOLD,M15</span>
<span class="t tab" style="left:558.1px;letter-spacing:-0.334px">EURUSD,M5</span>
<span class="t tab" style="left:666.3px;letter-spacing:-0.334px">EURUSD,M1</span>
<span class="t tab" style="left:774.6px;letter-spacing:-0.35px">EURUSD,M15</span>
<span class="t tab" style="left:890.1px;letter-spacing:0.027px">GOLD,M30</span>
<span class="t tab" style="left:989.3px;letter-spacing:-0.109px">GERMANY40,M5</span>
<span class="t tab" style="left:1126.5px;letter-spacing:-0.339px">EURUSD,M30</span>
<span class="t tab" style="left:1242.6px;letter-spacing:-0.484px">EURUSD,M1</span>
<svg style="position:absolute;left:1540px;top:686px" width="40" height="14"><path fill="#a0a0a0" d="M10 3v8l-5-4z M30 3v8l5-4z"/></svg>
<span class="t" style="left:20px;top:5.5px;font-size:12px;letter-spacing:-0.384px">GOLD,M15</span>
<span class="t" style="left:5.4px;top:500px;font-size:12.4px;letter-spacing:0.117px">momentum - floating levels 1090 fix bt</span>
<span class="t" style="left:221.8px;top:500px;font-size:12.4px;letter-spacing:0.235px">99.513 100.379 100.205 99.946 99.686 100.208</span>
<span class="t ax" style="left:1520.6px;top:27px;letter-spacing:-0.104px">2945.910</span>
<span class="t ax" style="left:1520.6px;top:76px;letter-spacing:-0.104px">2938.260</span>
<span class="t ax" style="left:1520.6px;top:125px;letter-spacing:-0.104px">2930.760</span>
<span class="t ax" style="left:1520.6px;top:174px;letter-spacing:-0.104px">2923.260</span>
<span class="t ax" style="left:1520.6px;top:223px;letter-spacing:-0.104px">2915.610</span>
<span class="t ax" style="left:1520.6px;top:272px;letter-spacing:-0.104px">2908.110</span>
<span class="t ax" style="left:1520.6px;top:321px;letter-spacing:-0.104px">2900.610</span>
<span class="t ax" style="left:1520.6px;top:370px;letter-spacing:-0.104px">2893.110</span>
<span class="t ax" style="left:1520.6px;top:419px;letter-spacing:-0.104px">2885.460</span>
<span class="t ax" style="left:1520.6px;top:468px;letter-spacing:-0.104px">2877.960</span>
<div style="position:absolute;left:1515px;top:102px;width:63px;height:14px;background:#fff"></div><span class="t ax" style="left:1520.6px;top:104px;color:#2b2531;letter-spacing:-0.104px">2934.060</span>
<span class="t ax" style="left:1517.2px;top:498px;letter-spacing:0.128px">100.856</span>
<span class="t ax" style="left:1516.9px;top:643px;letter-spacing:0.214px">98.655</span>
<span class="t tm" style="left:1.4px;letter-spacing:0.021px">13 Feb 2025</span>
<span class="t tm" style="left:97.4px;letter-spacing:-0.003px">14 Feb 01:45</span>
<span class="t tm" style="left:193.4px;letter-spacing:-0.003px">14 Feb 07:45</span>
<span class="t tm" style="left:289.4px;letter-spacing:-0.003px">14 Feb 13:45</span>
<span class="t tm" style="left:385.4px;letter-spacing:-0.003px">14 Feb 19:45</span>
<span class="t tm" style="left:481.4px;letter-spacing:-0.003px">17 Feb 03:30</span>
<span class="t tm" style="left:577.4px;letter-spacing:-0.003px">17 Feb 09:30</span>
<span class="t tm" style="left:673.4px;letter-spacing:-0.003px">17 Feb 15:30</span>
<span class="t tm" style="left:769.4px;letter-spacing:-0.003px">18 Feb 01:00</span>
<span class="t tm" style="left:865.4px;letter-spacing:-0.003px">18 Feb 07:00</span>
<span class="t tm" style="left:961.4px;letter-spacing:-0.003px">18 Feb 13:00</span>
<span class="t tm" style="left:1057.4px;letter-spacing:-0.003px">18 Feb 19:00</span>
<span class="t tm" style="left:1153.4px;letter-spacing:-0.003px">19 Feb 02:00</span>
<span class="t tm" style="left:1249.4px;letter-spacing:-0.003px">19 Feb 08:00</span>
<span class="t tm" style="left:1345.4px;letter-spacing:-0.003px">19 Feb 14:00</span>
<span class="t tm" style="left:1441.4px;letter-spacing:-0.003px">19 Feb 20:00</span>
<div style="position:absolute;left:1453px;top:17px;width:38px;height:18px;background:#0000e6;border:1px solid #e8e0d0;border-radius:2px"></div><span class="t" style="left:1456.2px;top:20.4px;font-size:13.6px;letter-spacing:-0.5px">Show</span>
<div style="position:absolute;left:902px;top:495px;width:58px;height:18px;background:#696969;border:1px solid #b8b8b8;border-radius:2px"></div><span class="t" style="left:907.5px;top:498.5px;font-size:13px;letter-spacing:-0.194px">mom on</span>
</body></html>
